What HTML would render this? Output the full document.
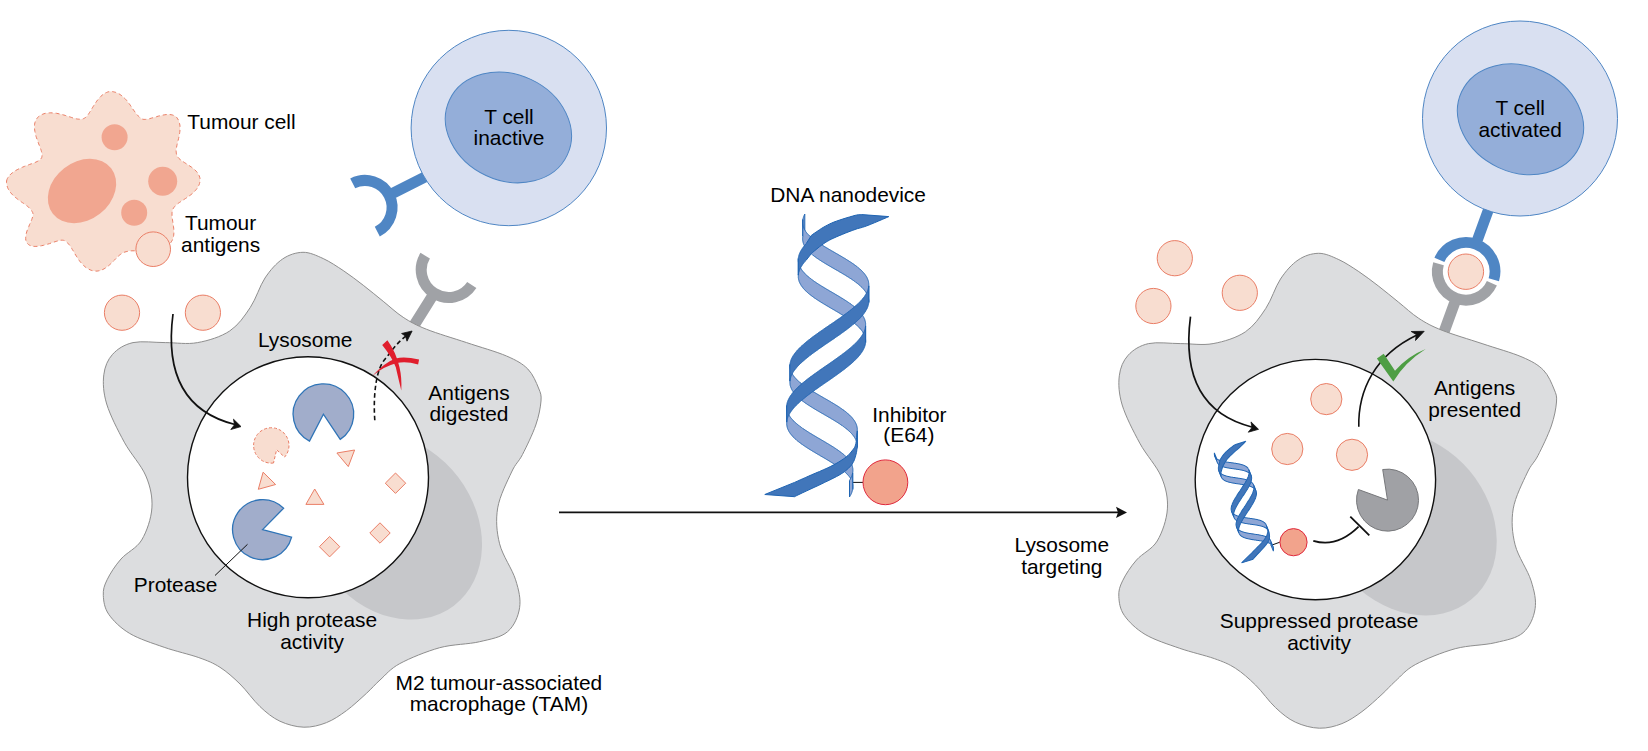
<!DOCTYPE html>
<html><head><meta charset="utf-8"><style>
html,body{margin:0;padding:0;background:#fff;overflow:hidden}
svg{display:block}
text{font-family:"Liberation Sans",sans-serif;fill:#000}
</style></head><body>
<svg width="1648" height="751" viewBox="0 0 1648 751">
<path d="M6.6 181 L6.9 179.7 L7.4 178.5 L8.1 177.3 L8.9 176.1 L10 174.9 L11.1 173.8 L12.5 172.7 L13.9 171.6 L15.5 170.6 L17.2 169.7 L18.9 168.8 L20.7 168 L22.5 167.2 L24.4 166.4 L26.2 165.7 L28 165.1 L29.7 164.4 L31.4 163.8 L33 163.2 L34.6 162.7 L35.9 162.1 L37.2 161.5 L38.3 160.9 L39.3 160.3 L40.1 159.7 L40.8 159 L41.3 158.2 L41.7 157.5 L41.9 156.6 L42 155.7 L42 154.8 L41.9 153.8 L41.8 152.8 L41.5 151.7 L41.2 150.5 L40.8 149.3 L40.3 148 L39.8 146.7 L39.3 145.3 L38.7 143.9 L38.2 142.4 L37.6 140.9 L37.1 139.4 L36.5 137.8 L36 136.3 L35.6 134.7 L35.2 133.1 L34.9 131.5 L34.7 130 L34.5 128.5 L34.5 127 L34.5 125.5 L34.6 124.2 L34.9 122.8 L35.2 121.6 L35.7 120.4 L36.3 119.3 L37 118.3 L37.7 117.4 L38.6 116.6 L39.6 115.9 L40.6 115.2 L41.7 114.6 L42.8 114.2 L44 113.7 L45.3 113.4 L46.6 113.1 L47.9 113 L49.3 112.9 L50.7 112.8 L52.1 112.9 L53.6 113 L55 113.1 L56.5 113.3 L58 113.6 L59.4 113.9 L60.9 114.3 L62.3 114.6 L63.8 115 L65.2 115.4 L66.5 115.9 L67.9 116.3 L69.2 116.7 L70.5 117.1 L71.7 117.5 L72.9 117.9 L74.1 118.2 L75.2 118.5 L76.3 118.8 L77.3 119 L78.3 119.1 L79.3 119.2 L80.2 119.2 L81.1 119.2 L82 119.1 L82.8 118.9 L83.6 118.6 L84.4 118.2 L85.2 117.7 L85.9 117.2 L86.6 116.5 L87.3 115.7 L88 114.8 L88.7 113.8 L89.4 112.7 L90.1 111.6 L90.9 110.4 L91.6 109.1 L92.4 107.8 L93.2 106.5 L94 105.2 L94.9 103.8 L95.8 102.5 L96.7 101.2 L97.7 99.9 L98.7 98.7 L99.7 97.5 L100.8 96.4 L101.9 95.4 L103 94.5 L104.1 93.7 L105.3 93 L106.5 92.5 L107.7 92 L108.9 91.7 L110 91.5 L111.2 91.5 L112.4 91.6 L113.6 91.8 L114.7 92.1 L115.8 92.4 L117 92.8 L118.1 93.4 L119.1 93.9 L120.2 94.6 L121.2 95.3 L122.2 96.1 L123.2 96.9 L124.1 97.8 L125.1 98.7 L125.9 99.6 L126.8 100.6 L127.6 101.6 L128.4 102.7 L129.2 103.7 L130 104.8 L130.7 105.8 L131.4 106.9 L132.2 107.9 L132.8 109 L133.5 110 L134.2 110.9 L134.9 111.9 L135.5 112.8 L136.2 113.7 L136.9 114.5 L137.6 115.3 L138.3 116 L139 116.7 L139.7 117.4 L140.5 117.9 L141.3 118.5 L142.1 119 L143.1 119.3 L144.1 119.4 L145.3 119.4 L146.6 119.3 L148 119 L149.5 118.7 L151.2 118.2 L152.9 117.7 L154.7 117.2 L156.5 116.7 L158.4 116.1 L160.3 115.7 L162.2 115.2 L164.1 114.9 L166 114.6 L167.8 114.5 L169.5 114.5 L171.1 114.7 L172.6 115 L173.9 115.5 L175.1 116.1 L176.1 116.9 L177 117.8 L177.7 118.9 L178.4 120 L178.9 121.2 L179.3 122.4 L179.6 123.8 L179.9 125.1 L180 126.6 L180.1 128 L180 129.5 L179.9 131.1 L179.7 132.6 L179.5 134.1 L179.2 135.7 L178.9 137.2 L178.5 138.7 L178.2 140.2 L177.8 141.6 L177.4 143.1 L177.1 144.5 L176.8 145.8 L176.6 147.1 L176.4 148.3 L176.2 149.5 L176.1 150.7 L176.2 151.8 L176.3 152.9 L176.4 153.9 L176.7 154.9 L177.1 155.8 L177.6 156.8 L178.3 157.6 L179 158.5 L179.9 159.3 L180.9 160.1 L182 160.9 L183.2 161.7 L184.5 162.6 L185.8 163.4 L187.2 164.3 L188.6 165.1 L189.9 166.1 L191.3 167 L192.6 168 L193.9 169 L195.1 170.1 L196.2 171.2 L197.2 172.3 L198 173.5 L198.7 174.7 L199.3 176 L199.7 177.2 L200 178.5 L200.1 179.7 L200 181 L199.8 182.3 L199.5 183.5 L199.1 184.8 L198.5 186 L197.9 187.2 L197.1 188.4 L196.2 189.6 L195.2 190.7 L194.2 191.8 L193.1 192.9 L191.9 193.9 L190.7 194.9 L189.4 195.8 L188.1 196.8 L186.8 197.7 L185.5 198.5 L184.2 199.4 L182.9 200.2 L181.7 201 L180.5 201.8 L179.4 202.5 L178.3 203.3 L177.3 204.1 L176.4 204.8 L175.5 205.6 L174.8 206.4 L174.1 207.2 L173.5 208.1 L173.1 208.9 L172.7 209.9 L172.4 210.8 L172.2 211.8 L172 212.8 L172 213.9 L172 215 L172 216.2 L172.1 217.4 L172.3 218.6 L172.5 219.9 L172.7 221.2 L172.9 222.6 L173.1 224 L173.4 225.4 L173.5 226.8 L173.7 228.2 L173.8 229.7 L173.9 231.1 L173.9 232.5 L173.8 233.9 L173.7 235.2 L173.5 236.5 L173.2 237.8 L172.8 239 L172.3 240.2 L171.7 241.2 L171 242.3 L170.3 243.2 L169.4 244 L168.5 244.8 L167.6 245.6 L166.6 246.3 L165.6 247 L164.6 247.6 L163.5 248.1 L162.3 248.6 L161.2 249.1 L160 249.5 L158.8 249.9 L157.5 250.2 L156.3 250.4 L155 250.6 L153.7 250.8 L152.4 251 L151.2 251.1 L149.9 251.1 L148.6 251.2 L147.3 251.2 L146 251.2 L144.7 251.2 L143.5 251.1 L142.2 251.1 L141 251 L139.8 251 L138.6 250.9 L137.5 250.9 L136.3 250.8 L135.2 250.8 L134.1 250.8 L133 250.8 L131.9 250.8 L130.9 250.9 L129.9 251 L128.9 251.1 L127.9 251.3 L126.9 251.5 L126 251.7 L125 252 L124.1 252.3 L123.2 252.7 L122.3 253.1 L121.5 253.7 L120.6 254.3 L119.7 255 L118.9 255.7 L118 256.5 L117.1 257.3 L116.3 258.2 L115.4 259.1 L114.5 260.1 L113.5 261 L112.6 262 L111.6 263 L110.6 263.9 L109.6 264.8 L108.6 265.7 L107.5 266.6 L106.4 267.4 L105.3 268.1 L104.1 268.8 L103 269.4 L101.8 269.9 L100.7 270.4 L99.5 270.7 L98.3 270.9 L97.1 271.1 L95.9 271.1 L94.7 271 L93.6 270.9 L92.4 270.6 L91.2 270.3 L90.1 269.8 L89 269.3 L87.9 268.8 L86.9 268.1 L85.8 267.4 L84.8 266.6 L83.8 265.7 L82.9 264.8 L82 263.8 L81.1 262.8 L80.2 261.8 L79.4 260.7 L78.6 259.6 L77.8 258.5 L77.1 257.4 L76.4 256.2 L75.7 255.1 L75 254 L74.3 252.8 L73.7 251.7 L73.1 250.7 L72.4 249.6 L71.8 248.6 L71.2 247.6 L70.6 246.7 L70 245.8 L69.4 245 L68.7 244.2 L68 243.4 L67.4 242.7 L66.7 242.1 L65.9 241.5 L65.2 241 L64.3 240.5 L63.4 240.3 L62.3 240.2 L61.1 240.2 L59.8 240.4 L58.4 240.8 L56.8 241.2 L55.1 241.7 L53.4 242.3 L51.5 242.9 L49.6 243.6 L47.6 244.2 L45.6 244.8 L43.6 245.3 L41.6 245.7 L39.6 246.1 L37.7 246.3 L35.9 246.4 L34.1 246.4 L32.5 246.2 L31 245.8 L29.7 245.3 L28.6 244.6 L27.6 243.7 L26.8 242.7 L26.2 241.5 L25.8 240.2 L25.7 238.7 L25.7 237.2 L25.9 235.5 L26.2 233.8 L26.7 232 L27.3 230.1 L28 228.3 L28.8 226.5 L29.5 224.7 L30.3 223 L31 221.3 L31.7 219.7 L32.2 218.2 L32.6 216.9 L32.9 215.6 L33 214.4 L32.9 213.3 L32.6 212.4 L32.1 211.5 L31.6 210.6 L31 209.7 L30.3 208.9 L29.5 208.1 L28.7 207.3 L27.8 206.5 L26.8 205.8 L25.8 205 L24.7 204.2 L23.6 203.4 L22.4 202.6 L21.2 201.8 L20 200.9 L18.8 200.1 L17.6 199.2 L16.4 198.2 L15.2 197.3 L14.1 196.3 L13 195.3 L12 194.2 L11 193.1 L10.1 192 L9.3 190.8 L8.6 189.7 L8 188.5 L7.5 187.3 L7.1 186 L6.8 184.8 L6.6 183.5 L6.5 182.3Z" fill="#f8ddd0" stroke="#ea7e66" stroke-width="1" stroke-dasharray="4 3"/>
<ellipse cx="82" cy="191" rx="37" ry="29" transform="rotate(-38 82 191)" fill="#f1a690"/>
<circle cx="114.6" cy="137.3" r="13" fill="#f1a690" stroke="none" stroke-width="0" />
<circle cx="162.7" cy="181.2" r="14.5" fill="#f1a690" stroke="none" stroke-width="0" />
<circle cx="134.2" cy="212.8" r="13" fill="#f1a690" stroke="none" stroke-width="0" />
<circle cx="153.2" cy="249.2" r="17.3" fill="#f8ddd0" stroke="#ea7e66" stroke-width="1" />
<text x="187.3" y="128.5" text-anchor="start" font-size="20.9">Tumour cell</text>
<text x="220.6" y="230.4" text-anchor="middle" font-size="20.9">Tumour</text>
<text x="220.6" y="252" text-anchor="middle" font-size="20.9">antigens</text>
<path d="M352.7 183.4A27 27 0 0 1 377.3 231.6M389.1 195.2L424.7 177.1" fill="none" stroke="#4f86c4" stroke-width="11"/>
<circle cx="508.8" cy="128" r="97.7" fill="#d9e0f1" stroke="#4f86c4" stroke-width="1" />
<ellipse cx="508.4" cy="127.4" rx="65" ry="53" transform="rotate(25 508.4 127.4)" fill="#94aed9" stroke="#4f86c4" stroke-width="1"/>
<text x="509" y="123.5" text-anchor="middle" font-size="20.9">T cell</text>
<text x="509" y="145.1" text-anchor="middle" font-size="20.9">inactive</text>
<path d="M471.8 284.9A27.5 27.5 0 0 1 425.2 255.7M433.9 293.6L412.7 327.5" fill="none" stroke="#a0a2a6" stroke-width="11"/>
<g transform="translate(0 0)"><path d="M303 252.3C309.8 252.2 316.6 255.6 323.3 258.6C330 261.7 336.6 266.2 343.3 270.6C350 275.1 356.7 280.2 363.3 285.3C369.9 290.4 376.6 296 383.2 301.3C389.8 306.6 396 312.6 403.2 317.3C410.4 322 416 325.1 426.6 329.3C437.2 333.5 453.3 338.2 466.6 342.6C479.9 347.1 496.3 351.6 506.5 356C516.7 360.4 522.5 363.7 527.8 369C533.1 374.3 536.3 382.7 538.5 388C540.7 393.3 541.5 394.8 541 401C540.5 407.2 538.9 416.1 535.8 425C532.7 433.9 526.5 446.7 522.5 454.5C518.5 462.3 515.7 463.1 511.6 472C507.5 480.9 499.7 495.9 497.7 507.9C495.7 519.9 496.6 531.8 499.6 543.8C502.6 555.8 512.3 569.1 515.6 579.8C518.9 590.4 520.9 599.1 519.6 607.7C518.3 616.4 514.2 626 507.6 631.7C501 637.4 491 639 479.7 641.7C468.4 644.4 453 644.1 439.7 647.7C426.4 651.4 409.8 658.2 399.8 663.6C389.9 669 385.6 675 380 680C374.4 685 372.1 688.2 366.5 693.3C360.9 698.4 353.2 705.7 346.5 710.6C339.8 715.5 333.6 719.8 326.5 722.6C319.4 725.4 311.7 727.4 303.9 727.2C296.1 727 287.2 724.6 279.9 721.2C272.6 717.8 266.6 712.8 260 706.6C253.3 700.4 246.7 690.5 240 684C233.3 677.5 226.9 671.7 220 667.3C213.1 662.9 208.1 660.9 198.8 657.6C189.5 654.3 175.7 651.3 164.2 647.3C152.7 643.3 138.8 638.9 129.6 633.4C120.4 627.9 113.2 620.7 108.8 614.4C104.4 608.1 103.6 601.2 103.3 595.4C103 589.6 104.1 585.9 107.1 579.8C110 573.7 115.2 565.6 121 559C126.8 552.4 136.5 548.5 141.7 540C146.8 531.5 151.2 518.6 151.9 507.9C152.6 497.2 150.5 486.9 145.9 476C141.3 465.1 130.8 454.2 124.3 442.2C117.8 430.2 110.1 415.2 106.7 404C103.3 392.8 102.8 383.1 103.8 374.8C104.8 366.5 107.7 359.7 112.6 354.3C117.5 348.9 124.2 344.6 133 342.6C141.8 340.7 154.5 342.6 165.3 342.6C176.1 342.6 186.8 344.6 197.6 342.6C208.3 340.7 221 336.8 229.8 330.9C238.6 325 244.4 316.2 250.3 307.4C256.2 298.6 259.6 286.1 265 278C270.4 269.9 276.3 263.3 282.6 259C288.9 254.7 296.2 252.4 303 252.3Z" fill="#dcdddf" stroke="#8e8e8e" stroke-width="1"/></g>
<ellipse cx="393.7" cy="526.3" rx="81.1" ry="99.6" transform="rotate(-37.2 393.7 526.3)" fill="#c6c7ca"/>
<circle cx="308" cy="477.3" r="120.5" fill="#fff" stroke="#111" stroke-width="1.4"/>
<circle cx="122" cy="312.7" r="17.6" fill="#f8ddd0" stroke="#ea7e66" stroke-width="1" />
<circle cx="202.9" cy="312.7" r="17.6" fill="#f8ddd0" stroke="#ea7e66" stroke-width="1" />
<text x="305.2" y="347.3" text-anchor="middle" font-size="20.9">Lysosome</text>
<g transform="translate(0 0)"><path d="M173 314C165 375 185 412 235 424.5" fill="none" stroke="#111" stroke-width="1.7"/><path d="M241 426.6L233.5 419.2L234.5 424.8L230.8 429.5Z" fill="#111" stroke="#111" stroke-width="0.8" stroke-linejoin="round"/></g>
<path d="M323.4 414.2L309.5 441.1A30.3 30.3 0 1 1 340.2 439.4Z" fill="#a1adcb" stroke="#2f74b7" stroke-width="1.3"/>
<path d="M262.6 529.6L291.6 537.2A30 30 0 1 1 283.6 508.2Z" fill="#a1adcb" stroke="#2f74b7" stroke-width="1.3"/>
<path d="M273.5 463A17.7 17.7 0 1 1 284.6 457.1L276.6 449.8Z" fill="#f8ddd0" stroke="#ea7e66" stroke-width="1" stroke-dasharray="3 2"/>
<path d="M336.9 453L354.6 450L348.3 466.6Z" fill="#f8ddd0" stroke="#ea7e66" stroke-width="1"/>
<path d="M263.1 472.2L275.6 484.5L258.3 489.3Z" fill="#f8ddd0" stroke="#ea7e66" stroke-width="1"/>
<path d="M314.7 489L323.9 504.4L305.9 504.4Z" fill="#f8ddd0" stroke="#ea7e66" stroke-width="1"/>
<path d="M395.5 473L405.7 483.2L395.5 493.4L385.3 483.2Z" fill="#f8ddd0" stroke="#ea7e66" stroke-width="1"/>
<path d="M380 522.8L390.2 533L380 543.2L369.8 533Z" fill="#f8ddd0" stroke="#ea7e66" stroke-width="1"/>
<path d="M329.6 536.5L339.8 546.7L329.6 556.9L319.4 546.7Z" fill="#f8ddd0" stroke="#ea7e66" stroke-width="1"/>
<path d="M247.5 544.3L215 575.5" stroke="#111" stroke-width="1"/>
<text x="175.6" y="591.5" text-anchor="middle" font-size="20.9">Protease</text>
<text x="312.1" y="627" text-anchor="middle" font-size="20.9">High protease</text>
<text x="312.1" y="648.8" text-anchor="middle" font-size="20.9">activity</text>
<text x="469" y="400.4" text-anchor="middle" font-size="20.9">Antigens</text>
<text x="469" y="421.3" text-anchor="middle" font-size="20.9">digested</text>
<text x="498.9" y="690.2" text-anchor="middle" font-size="20.9">M2 tumour-associated</text>
<text x="498.9" y="710.9" text-anchor="middle" font-size="20.9">macrophage (TAM)</text>
<path d="M374.8 420.3C373 395 376 368 386 358C392 350 398 342 406 336" fill="none" stroke="#111" stroke-width="1.6" stroke-dasharray="4.5 3"/>
<path d="M412.1 331L401.6 333.5L405.5 336.1L407 341.2Z" fill="#111" stroke="#111" stroke-width="0.8" stroke-linejoin="round"/>
<path d="M382.2 344.9L387.4 340.3Q396 352 399.5 367.3Q402 378 401.3 390.6Q398 377 395.8 367.3Q392 357 382.2 344.9Z" fill="#e01e2d"/>
<path d="M372.5 375.7Q385 362 395.8 358.4Q404 356 419.1 359.4L418.1 364.5Q406 361 396.7 363.1Q385 366 372.5 375.7Z" fill="#e01e2d"/>
<text x="848.1" y="201.5" text-anchor="middle" font-size="20.9">DNA nanodevice</text>
<text x="909.4" y="421.5" text-anchor="middle" font-size="20.9">Inhibitor</text>
<text x="908.8" y="442.4" text-anchor="middle" font-size="20.9">(E64)</text>
<path d="M559 512.4H1120" stroke="#111" stroke-width="1.6"/>
<path d="M1127 512.4L1116 506.8L1118 512.4L1116 518Z" fill="#111"/>
<text x="1061.8" y="552.4" text-anchor="middle" font-size="20.9">Lysosome</text>
<text x="1061.8" y="573.6" text-anchor="middle" font-size="20.9">targeting</text>
<path d="M850.7 482.4H863" stroke="#111" stroke-width="1"/>
<circle cx="885.4" cy="482.3" r="22.4" fill="#f2a38c" stroke="#e0283c" stroke-width="1" />
<g><path d="M798.3 258.6 L798.3 259 L798.3 259.4 L798.3 259.7 L798.3 260.1 L798.3 260.5 L798.3 260.8 L798.3 261.2 L798.4 261.6 L798.4 261.9 L798.5 262.3 L798.5 262.6 L798.6 263 L798.7 263.3 L798.8 263.7 L798.9 264.1 L799 264.4 L799.1 264.8 L799.2 265.1 L799.4 265.5 L799.5 265.8 L799.7 266.2 L799.8 266.5 L800 266.9 L800.2 267.2 L800.4 267.6 L800.6 267.9 L800.8 268.3 L801 268.6 L801.2 269 L801.4 269.3 L801.7 269.7 L801.9 270 L802.2 270.4 L802.4 270.7 L802.7 271 L803 271.4 L803.2 271.7 L803.5 272.1 L803.8 272.4 L804.1 272.7 L804.4 273.1 L804.8 273.4 L805.1 273.7 L805.4 274.1 L805.8 274.4 L806.1 274.8 L806.5 275.1 L806.8 275.4 L807.2 275.8 L807.6 276.1 L807.9 276.4 L808.3 276.8 L808.7 277.1 L809.1 277.4 L809.5 277.7 L809.9 278.1 L810.4 278.4 L810.8 278.7 L811.2 279.1 L811.6 279.4 L812.1 279.7 L812.5 280 L813 280.4 L813.4 280.7 L813.9 281 L814.3 281.4 L814.8 281.7 L815.3 282 L815.8 282.3 L816.2 282.6 L816.7 283 L817.2 283.3 L817.7 283.6 L818.2 283.9 L818.7 284.3 L819.2 284.6 L819.7 284.9 L820.2 285.2 L820.7 285.5 L821.2 285.9 L821.8 286.2 L822.3 286.5 L822.8 286.8 L823.3 287.1 L823.9 287.5 L824.4 287.8 L824.9 288.1 L825.5 288.4 L826 288.7 L826.5 289.1 L827.1 289.4 L827.6 289.7 L828.1 290 L828.7 290.3 L829.2 290.7 L829.8 291 L830.3 291.3 L830.9 291.6 L831.4 291.9 L832 292.2 L832.5 292.6 L833 292.9 L833.6 293.2 L834.1 293.5 L834.7 293.8 L835.2 294.2 L835.8 294.5 L836.3 294.8 L836.8 295.1 L837.4 295.4 L837.9 295.8 L838.5 296.1 L839 296.4 L839.5 296.7 L840.1 297 L840.6 297.4 L841.1 297.7 L841.6 298 L842.2 298.3 L842.7 298.6 L843.2 299 L843.7 299.3 L844.2 299.6 L844.7 299.9 L845.2 300.2 L845.7 300.6 L846.2 300.9 L846.7 301.2 L847.2 301.5 L847.7 301.9 L848.2 302.2 L848.6 302.5 L849.1 302.8 L849.6 303.1 L850 303.5 L850.5 303.8 L850.9 304.1 L851.4 304.5 L851.8 304.8 L852.3 305.1 L852.7 305.4 L853.1 305.8 L853.6 306.1 L854 306.4 L854.4 306.8 L854.8 307.1 L855.2 307.4 L855.6 307.7 L856 308.1 L856.3 308.4 L856.7 308.7 L857.1 309.1 L857.4 309.4 L857.8 309.7 L858.1 310.1 L858.5 310.4 L858.8 310.8 L859.1 311.1 L859.5 311.4 L859.8 311.8 L860.1 312.1 L860.4 312.4 L860.7 312.8 L861 313.1 L861.2 313.5 L861.5 313.8 L861.8 314.1 L862 314.5 L862.3 314.8 L862.5 315.2 L862.7 315.5 L862.9 315.9 L863.1 316.2 L863.3 316.6 L863.5 316.9 L863.7 317.3 L863.9 317.6 L864.1 318 L864.2 318.3 L864.4 318.7 L864.5 319 L864.7 319.4 L864.8 319.7 L864.9 320.1 L865 320.4 L865.1 320.8 L865.2 321.2 L865.3 321.5 L865.4 321.9 L865.4 322.2 L865.5 322.6 L865.5 322.9 L865.6 323.3 L865.6 323.7 L865.6 324 L865.6 324.4 L865.6 324.8 L865.6 325.1 L865.6 325.5 L865.6 325.9 L865.6 342.4 L865.6 342 L865.6 341.6 L865.6 341.3 L865.6 340.9 L865.6 340.5 L865.6 340.2 L865.6 339.8 L865.5 339.4 L865.5 339.1 L865.4 338.7 L865.4 338.4 L865.3 338 L865.2 337.7 L865.1 337.3 L865 336.9 L864.9 336.6 L864.8 336.2 L864.7 335.9 L864.5 335.5 L864.4 335.2 L864.2 334.8 L864.1 334.5 L863.9 334.1 L863.7 333.8 L863.5 333.4 L863.3 333.1 L863.1 332.7 L862.9 332.4 L862.7 332 L862.5 331.7 L862.3 331.3 L862 331 L861.8 330.6 L861.5 330.3 L861.2 330 L861 329.6 L860.7 329.3 L860.4 328.9 L860.1 328.6 L859.8 328.3 L859.5 327.9 L859.1 327.6 L858.8 327.3 L858.5 326.9 L858.1 326.6 L857.8 326.2 L857.4 325.9 L857.1 325.6 L856.7 325.2 L856.3 324.9 L856 324.6 L855.6 324.2 L855.2 323.9 L854.8 323.6 L854.4 323.3 L854 322.9 L853.6 322.6 L853.1 322.3 L852.7 321.9 L852.3 321.6 L851.8 321.3 L851.4 321 L850.9 320.6 L850.5 320.3 L850 320 L849.6 319.6 L849.1 319.3 L848.6 319 L848.2 318.7 L847.7 318.4 L847.2 318 L846.7 317.7 L846.2 317.4 L845.7 317.1 L845.2 316.7 L844.7 316.4 L844.2 316.1 L843.7 315.8 L843.2 315.5 L842.7 315.1 L842.2 314.8 L841.6 314.5 L841.1 314.2 L840.6 313.9 L840.1 313.5 L839.5 313.2 L839 312.9 L838.5 312.6 L837.9 312.3 L837.4 311.9 L836.8 311.6 L836.3 311.3 L835.8 311 L835.2 310.7 L834.7 310.3 L834.1 310 L833.6 309.7 L833 309.4 L832.5 309.1 L832 308.8 L831.4 308.4 L830.9 308.1 L830.3 307.8 L829.8 307.5 L829.2 307.2 L828.7 306.8 L828.1 306.5 L827.6 306.2 L827.1 305.9 L826.5 305.6 L826 305.2 L825.5 304.9 L824.9 304.6 L824.4 304.3 L823.9 304 L823.3 303.6 L822.8 303.3 L822.3 303 L821.8 302.7 L821.2 302.4 L820.7 302 L820.2 301.7 L819.7 301.4 L819.2 301.1 L818.7 300.8 L818.2 300.4 L817.7 300.1 L817.2 299.8 L816.7 299.5 L816.2 299.1 L815.8 298.8 L815.3 298.5 L814.8 298.2 L814.3 297.9 L813.9 297.5 L813.4 297.2 L813 296.9 L812.5 296.5 L812.1 296.2 L811.6 295.9 L811.2 295.6 L810.8 295.2 L810.4 294.9 L809.9 294.6 L809.5 294.2 L809.1 293.9 L808.7 293.6 L808.3 293.3 L807.9 292.9 L807.6 292.6 L807.2 292.3 L806.8 291.9 L806.5 291.6 L806.1 291.3 L805.8 290.9 L805.4 290.6 L805.1 290.2 L804.8 289.9 L804.4 289.6 L804.1 289.2 L803.8 288.9 L803.5 288.6 L803.2 288.2 L803 287.9 L802.7 287.5 L802.4 287.2 L802.2 286.9 L801.9 286.5 L801.7 286.2 L801.4 285.8 L801.2 285.5 L801 285.1 L800.8 284.8 L800.6 284.4 L800.4 284.1 L800.2 283.7 L800 283.4 L799.8 283 L799.7 282.7 L799.5 282.3 L799.4 282 L799.2 281.6 L799.1 281.3 L799 280.9 L798.9 280.6 L798.8 280.2 L798.7 279.8 L798.6 279.5 L798.5 279.1 L798.5 278.8 L798.4 278.4 L798.4 278.1 L798.3 277.7 L798.3 277.3 L798.3 277 L798.3 276.6 L798.3 276.2 L798.3 275.9 L798.3 275.5 L798.3 275.1Z" fill="#8ea6d5" stroke="#1f64b2" stroke-width="1"/><path d="M786.7 405.6 L786.7 406 L786.7 406.4 L786.7 406.7 L786.7 407.1 L786.7 407.5 L786.7 407.8 L786.7 408.2 L786.8 408.6 L786.8 408.9 L786.9 409.3 L786.9 409.6 L787 410 L787.1 410.3 L787.2 410.7 L787.3 411.1 L787.4 411.4 L787.5 411.8 L787.6 412.1 L787.8 412.5 L787.9 412.8 L788.1 413.2 L788.2 413.5 L788.4 413.9 L788.6 414.2 L788.8 414.6 L788.9 414.9 L789.2 415.3 L789.4 415.6 L789.6 416 L789.8 416.3 L790 416.7 L790.3 417 L790.5 417.4 L790.8 417.7 L791.1 418 L791.3 418.4 L791.6 418.7 L791.9 419.1 L792.2 419.4 L792.5 419.7 L792.8 420.1 L793.1 420.4 L793.5 420.7 L793.8 421.1 L794.1 421.4 L794.5 421.8 L794.8 422.1 L795.2 422.4 L795.6 422.8 L796 423.1 L796.3 423.4 L796.7 423.8 L797.1 424.1 L797.5 424.4 L797.9 424.7 L798.3 425.1 L798.7 425.4 L799.2 425.7 L799.6 426.1 L800 426.4 L800.5 426.7 L800.9 427 L801.4 427.4 L801.8 427.7 L802.3 428 L802.7 428.4 L803.2 428.7 L803.7 429 L804.1 429.3 L804.6 429.6 L805.1 430 L805.6 430.3 L806.1 430.6 L806.6 430.9 L807.1 431.3 L807.6 431.6 L808.1 431.9 L808.6 432.2 L809.1 432.5 L809.6 432.9 L810.1 433.2 L810.7 433.5 L811.2 433.8 L811.7 434.1 L812.2 434.5 L812.8 434.8 L813.3 435.1 L813.8 435.4 L814.4 435.7 L814.9 436.1 L815.5 436.4 L816 436.7 L816.5 437 L817.1 437.3 L817.6 437.7 L818.2 438 L818.7 438.3 L819.3 438.6 L819.8 438.9 L820.3 439.2 L820.9 439.6 L821.4 439.9 L822 440.2 L822.5 440.5 L823.1 440.8 L823.6 441.2 L824.1 441.5 L824.7 441.8 L825.2 442.1 L825.8 442.4 L826.3 442.8 L826.8 443.1 L827.4 443.4 L827.9 443.7 L828.4 444 L829 444.4 L829.5 444.7 L830 445 L830.5 445.3 L831.1 445.6 L831.6 446 L832.1 446.3 L832.6 446.6 L833.1 446.9 L833.6 447.2 L834.1 447.6 L834.6 447.9 L835.1 448.2 L835.6 448.5 L836.1 448.9 L836.5 449.2 L837 449.5 L837.5 449.8 L838 450.1 L838.4 450.5 L838.9 450.8 L839.3 451.1 L839.8 451.5 L840.2 451.8 L840.7 452.1 L841.1 452.4 L841.5 452.8 L841.9 453.1 L842.4 453.4 L842.8 453.8 L843.2 454.1 L843.6 454.4 L844 454.7 L844.4 455.1 L844.7 455.4 L845.1 455.7 L845.5 456.1 L845.8 456.4 L846.2 456.7 L846.5 457.1 L846.9 457.4 L847.2 457.8 L847.5 458.1 L847.9 458.4 L848.2 458.8 L848.5 459.1 L848.8 459.4 L849.1 459.8 L849.3 460.1 L849.5 460.5 L849.8 460.8 L850 461.1 L850.2 461.5 L850.4 461.8 L850.6 462.2 L850.8 462.5 L851 462.9 L851.2 463.2 L851.4 463.6 L851.5 463.9 L851.7 464.3 L851.8 464.6 L851.9 465 L852.1 465.3 L852.2 465.7 L852.3 466 L852.4 466.4 L852.5 466.7 L852.6 467.1 L852.6 467.4 L852.7 467.8 L852.8 468.2 L852.8 468.5 L852.9 468.9 L852.9 469.2 L852.9 469.6 L852.9 469.9 L852.9 470.3 L852.9 470.7 L852.9 471 L852.9 471.4 L852.8 471.8 L852.8 472.1 L852.7 472.5 L852.7 472.9 L852.7 489.4 L852.7 489 L852.8 488.6 L852.8 488.3 L852.9 487.9 L852.9 487.5 L852.9 487.2 L852.9 486.8 L852.9 486.4 L852.9 486.1 L852.9 485.7 L852.9 485.4 L852.8 485 L852.8 484.7 L852.7 484.3 L852.6 483.9 L852.6 483.6 L852.5 483.2 L852.4 482.9 L852.3 482.5 L852.2 482.2 L852.1 481.8 L851.9 481.5 L851.8 481.1 L851.7 480.8 L851.5 480.4 L851.4 480.1 L851.2 479.7 L851 479.4 L850.8 479 L850.6 478.7 L850.4 478.3 L850.2 478 L850 477.6 L849.8 477.3 L849.5 477 L849.3 476.6 L849.1 476.3 L848.8 475.9 L848.5 475.6 L848.2 475.3 L847.9 474.9 L847.5 474.6 L847.2 474.3 L846.9 473.9 L846.5 473.6 L846.2 473.2 L845.8 472.9 L845.5 472.6 L845.1 472.2 L844.7 471.9 L844.4 471.6 L844 471.2 L843.6 470.9 L843.2 470.6 L842.8 470.3 L842.4 469.9 L841.9 469.6 L841.5 469.3 L841.1 468.9 L840.7 468.6 L840.2 468.3 L839.8 468 L839.3 467.6 L838.9 467.3 L838.4 467 L838 466.6 L837.5 466.3 L837 466 L836.5 465.7 L836.1 465.4 L835.6 465 L835.1 464.7 L834.6 464.4 L834.1 464.1 L833.6 463.7 L833.1 463.4 L832.6 463.1 L832.1 462.8 L831.6 462.5 L831.1 462.1 L830.5 461.8 L830 461.5 L829.5 461.2 L829 460.9 L828.4 460.5 L827.9 460.2 L827.4 459.9 L826.8 459.6 L826.3 459.3 L825.8 458.9 L825.2 458.6 L824.7 458.3 L824.1 458 L823.6 457.7 L823.1 457.3 L822.5 457 L822 456.7 L821.4 456.4 L820.9 456.1 L820.3 455.8 L819.8 455.4 L819.3 455.1 L818.7 454.8 L818.2 454.5 L817.6 454.2 L817.1 453.8 L816.5 453.5 L816 453.2 L815.5 452.9 L814.9 452.6 L814.4 452.2 L813.8 451.9 L813.3 451.6 L812.8 451.3 L812.2 451 L811.7 450.6 L811.2 450.3 L810.7 450 L810.1 449.7 L809.6 449.4 L809.1 449 L808.6 448.7 L808.1 448.4 L807.6 448.1 L807.1 447.8 L806.6 447.4 L806.1 447.1 L805.6 446.8 L805.1 446.5 L804.6 446.1 L804.1 445.8 L803.7 445.5 L803.2 445.2 L802.7 444.9 L802.3 444.5 L801.8 444.2 L801.4 443.9 L800.9 443.5 L800.5 443.2 L800 442.9 L799.6 442.6 L799.2 442.2 L798.7 441.9 L798.3 441.6 L797.9 441.2 L797.5 440.9 L797.1 440.6 L796.7 440.3 L796.3 439.9 L796 439.6 L795.6 439.3 L795.2 438.9 L794.8 438.6 L794.5 438.3 L794.1 437.9 L793.8 437.6 L793.5 437.2 L793.1 436.9 L792.8 436.6 L792.5 436.2 L792.2 435.9 L791.9 435.6 L791.6 435.2 L791.3 434.9 L791.1 434.5 L790.8 434.2 L790.5 433.9 L790.3 433.5 L790 433.2 L789.8 432.8 L789.6 432.5 L789.4 432.1 L789.2 431.8 L788.9 431.4 L788.8 431.1 L788.6 430.7 L788.4 430.4 L788.2 430 L788.1 429.7 L787.9 429.3 L787.8 429 L787.6 428.6 L787.5 428.3 L787.4 427.9 L787.3 427.6 L787.2 427.2 L787.1 426.8 L787 426.5 L786.9 426.1 L786.9 425.8 L786.8 425.4 L786.8 425.1 L786.7 424.7 L786.7 424.3 L786.7 424 L786.7 423.6 L786.7 423.2 L786.7 422.9 L786.7 422.5 L786.7 422.1Z" fill="#8ea6d5" stroke="#1f64b2" stroke-width="1"/><path d="M852.7 472.9 L852.6 473.2 L852.5 473.6 L852.4 474 L852.3 474.4 L852.2 474.7 L852.1 475.1 L852 475.5 L851.8 475.9 L851.7 476.3 L851.5 476.6 L851.4 477 L851.2 477.4 L851 477.8 L850.8 478.2 L850.6 478.6 L850.4 478.9 L850.2 479.3 L850 479.7 L849.7 480.1 L849.5 480.5 L849.5 497 L849.7 496.6 L850 496.2 L850.2 495.8 L850.4 495.4 L850.6 495.1 L850.8 494.7 L851 494.3 L851.2 493.9 L851.4 493.5 L851.5 493.1 L851.7 492.8 L851.8 492.4 L852 492 L852.1 491.6 L852.2 491.2 L852.3 490.9 L852.4 490.5 L852.5 490.1 L852.6 489.7 L852.7 489.4Z" fill="#8ea6d5" stroke="#1f64b2" stroke-width="1"/><path d="M804.8 214 L804.6 214.4 L804.4 214.8 L804.3 215.1 L804.1 215.5 L803.9 215.9 L803.8 216.3 L803.6 216.6 L803.5 217 L803.4 217.4 L803.3 217.7 L803.1 218.1 L803.1 218.5 L803 218.9 L802.9 219.2 L802.8 219.6 L802.8 236.1 L802.9 235.7 L803 235.4 L803.1 235 L803.1 234.6 L803.3 234.2 L803.4 233.9 L803.5 233.5 L803.6 233.1 L803.8 232.8 L803.9 232.4 L804.1 232 L804.3 231.6 L804.4 231.3 L804.6 230.9 L804.8 230.5Z" fill="#8ea6d5" stroke="#1f64b2" stroke-width="1"/><path d="M802.8 219.6 L802.8 220 L802.7 220.3 L802.7 220.7 L802.6 221 L802.6 221.4 L802.6 221.8 L802.6 222.1 L802.6 222.5 L802.6 222.8 L802.6 223.2 L802.6 223.5 L802.7 223.9 L802.7 224.2 L802.8 224.6 L802.9 224.9 L802.9 225.3 L803 225.6 L803.1 226 L803.2 226.3 L803.3 226.7 L803.4 227 L803.6 227.4 L803.7 227.7 L803.8 228.1 L804 228.4 L804.2 228.8 L804.3 229.1 L804.5 229.4 L804.7 229.8 L804.9 230.1 L805.1 230.5 L805.3 230.8 L805.5 231.1 L805.7 231.5 L806 231.8 L806.2 232.2 L806.5 232.5 L806.7 232.8 L807 233.2 L807.3 233.5 L807.5 233.8 L807.9 234.2 L808.2 234.5 L808.5 234.8 L808.9 235.2 L809.2 235.5 L809.6 235.8 L809.9 236.2 L810.3 236.5 L810.7 236.8 L811 237.1 L811.4 237.5 L811.8 237.8 L812.2 238.1 L812.6 238.4 L813 238.8 L813.5 239.1 L813.9 239.4 L814.3 239.7 L814.7 240.1 L815.2 240.4 L815.6 240.7 L816.1 241 L816.5 241.4 L817 241.7 L817.4 242 L817.9 242.3 L818.4 242.6 L818.9 243 L819.3 243.3 L819.8 243.6 L820.3 243.9 L820.8 244.2 L821.3 244.6 L821.8 244.9 L822.3 245.2 L822.8 245.5 L823.3 245.8 L823.8 246.1 L824.4 246.5 L824.9 246.8 L825.4 247.1 L825.9 247.4 L826.4 247.7 L827 248 L827.5 248.3 L828 248.7 L828.6 249 L829.1 249.3 L829.6 249.6 L830.2 249.9 L830.7 250.2 L831.3 250.6 L831.8 250.9 L832.4 251.2 L832.9 251.5 L833.4 251.8 L834 252.1 L834.5 252.4 L835.1 252.8 L835.6 253.1 L836.2 253.4 L836.7 253.7 L837.3 254 L837.8 254.3 L838.3 254.6 L838.9 254.9 L839.4 255.3 L840 255.6 L840.5 255.9 L841 256.2 L841.6 256.5 L842.1 256.8 L842.6 257.2 L843.2 257.5 L843.7 257.8 L844.2 258.1 L844.8 258.4 L845.3 258.7 L845.8 259 L846.3 259.4 L846.8 259.7 L847.3 260 L847.8 260.3 L848.3 260.6 L848.8 260.9 L849.3 261.3 L849.8 261.6 L850.3 261.9 L850.8 262.2 L851.3 262.5 L851.8 262.9 L852.2 263.2 L852.7 263.5 L853.2 263.8 L853.6 264.1 L854.1 264.5 L854.5 264.8 L855 265.1 L855.4 265.4 L855.8 265.8 L856.3 266.1 L856.7 266.4 L857.1 266.7 L857.5 267.1 L857.9 267.4 L858.3 267.7 L858.7 268 L859.1 268.4 L859.5 268.7 L859.9 269 L860.2 269.3 L860.6 269.7 L860.9 270 L861.3 270.3 L861.6 270.7 L862 271 L862.3 271.3 L862.6 271.7 L862.9 272 L863.2 272.3 L863.5 272.7 L863.8 273 L864.1 273.3 L864.4 273.7 L864.6 274 L864.9 274.4 L865.2 274.7 L865.4 275 L865.6 275.4 L865.9 275.7 L866.1 276.1 L866.3 276.4 L866.5 276.7 L866.7 277.1 L866.9 277.4 L867.1 277.8 L867.2 278.1 L867.4 278.5 L867.5 278.8 L867.7 279.2 L867.8 279.5 L867.9 279.9 L868.1 280.2 L868.2 280.6 L868.3 280.9 L868.4 281.3 L868.5 281.6 L868.5 282 L868.6 282.3 L868.6 282.7 L868.7 283 L868.7 283.4 L868.8 283.7 L868.8 284.1 L868.8 284.5 L868.8 284.8 L868.8 285.2 L868.8 285.5 L868.8 285.9 L868.8 302.4 L868.8 302 L868.8 301.7 L868.8 301.3 L868.8 301 L868.8 300.6 L868.8 300.2 L868.7 299.9 L868.7 299.5 L868.6 299.2 L868.6 298.8 L868.5 298.5 L868.5 298.1 L868.4 297.8 L868.3 297.4 L868.2 297.1 L868.1 296.7 L867.9 296.4 L867.8 296 L867.7 295.7 L867.5 295.3 L867.4 295 L867.2 294.6 L867.1 294.3 L866.9 293.9 L866.7 293.6 L866.5 293.2 L866.3 292.9 L866.1 292.6 L865.9 292.2 L865.6 291.9 L865.4 291.5 L865.2 291.2 L864.9 290.9 L864.6 290.5 L864.4 290.2 L864.1 289.8 L863.8 289.5 L863.5 289.2 L863.2 288.8 L862.9 288.5 L862.6 288.2 L862.3 287.8 L862 287.5 L861.6 287.2 L861.3 286.8 L860.9 286.5 L860.6 286.2 L860.2 285.8 L859.9 285.5 L859.5 285.2 L859.1 284.9 L858.7 284.5 L858.3 284.2 L857.9 283.9 L857.5 283.6 L857.1 283.2 L856.7 282.9 L856.3 282.6 L855.8 282.3 L855.4 281.9 L855 281.6 L854.5 281.3 L854.1 281 L853.6 280.6 L853.2 280.3 L852.7 280 L852.2 279.7 L851.8 279.4 L851.3 279 L850.8 278.7 L850.3 278.4 L849.8 278.1 L849.3 277.8 L848.8 277.4 L848.3 277.1 L847.8 276.8 L847.3 276.5 L846.8 276.2 L846.3 275.9 L845.8 275.5 L845.3 275.2 L844.8 274.9 L844.2 274.6 L843.7 274.3 L843.2 274 L842.6 273.7 L842.1 273.3 L841.6 273 L841 272.7 L840.5 272.4 L840 272.1 L839.4 271.8 L838.9 271.4 L838.3 271.1 L837.8 270.8 L837.3 270.5 L836.7 270.2 L836.2 269.9 L835.6 269.6 L835.1 269.2 L834.5 268.9 L834 268.6 L833.4 268.3 L832.9 268 L832.4 267.7 L831.8 267.4 L831.3 267.1 L830.7 266.7 L830.2 266.4 L829.6 266.1 L829.1 265.8 L828.6 265.5 L828 265.2 L827.5 264.8 L827 264.5 L826.4 264.2 L825.9 263.9 L825.4 263.6 L824.9 263.3 L824.4 263 L823.8 262.6 L823.3 262.3 L822.8 262 L822.3 261.7 L821.8 261.4 L821.3 261.1 L820.8 260.7 L820.3 260.4 L819.8 260.1 L819.3 259.8 L818.9 259.5 L818.4 259.1 L817.9 258.8 L817.4 258.5 L817 258.2 L816.5 257.9 L816.1 257.5 L815.6 257.2 L815.2 256.9 L814.7 256.6 L814.3 256.2 L813.9 255.9 L813.5 255.6 L813 255.3 L812.6 254.9 L812.2 254.6 L811.8 254.3 L811.4 254 L811 253.6 L810.7 253.3 L810.3 253 L809.9 252.7 L809.6 252.3 L809.2 252 L808.9 251.7 L808.5 251.3 L808.2 251 L807.9 250.7 L807.5 250.3 L807.3 250 L807 249.7 L806.7 249.3 L806.5 249 L806.2 248.7 L806 248.3 L805.7 248 L805.5 247.6 L805.3 247.3 L805.1 247 L804.9 246.6 L804.7 246.3 L804.5 245.9 L804.3 245.6 L804.2 245.3 L804 244.9 L803.8 244.6 L803.7 244.2 L803.6 243.9 L803.4 243.5 L803.3 243.2 L803.2 242.8 L803.1 242.5 L803 242.1 L802.9 241.8 L802.9 241.4 L802.8 241.1 L802.7 240.7 L802.7 240.4 L802.6 240 L802.6 239.7 L802.6 239.3 L802.6 239 L802.6 238.6 L802.6 238.3 L802.6 237.9 L802.6 237.5 L802.7 237.2 L802.7 236.8 L802.8 236.5 L802.8 236.1Z" fill="#8ea6d5" stroke="#1f64b2" stroke-width="1"/><path d="M789.9 364.6 L789.9 365 L789.9 365.3 L789.9 365.7 L789.9 366 L789.9 366.4 L789.9 366.8 L790 367.1 L790 367.5 L790 367.8 L790.1 368.2 L790.2 368.5 L790.2 368.9 L790.3 369.2 L790.4 369.6 L790.5 369.9 L790.6 370.3 L790.7 370.6 L790.9 371 L791 371.3 L791.2 371.7 L791.3 372 L791.5 372.4 L791.6 372.7 L791.8 373.1 L792 373.4 L792.2 373.8 L792.4 374.1 L792.6 374.4 L792.8 374.8 L793.1 375.1 L793.3 375.5 L793.5 375.8 L793.8 376.1 L794.1 376.5 L794.3 376.8 L794.6 377.2 L794.9 377.5 L795.2 377.8 L795.5 378.2 L795.8 378.5 L796.1 378.8 L796.4 379.2 L796.7 379.5 L797.1 379.8 L797.4 380.2 L797.8 380.5 L798.1 380.8 L798.5 381.2 L798.8 381.5 L799.2 381.8 L799.6 382.1 L800 382.5 L800.4 382.8 L800.8 383.1 L801.2 383.4 L801.6 383.8 L802 384.1 L802.4 384.4 L802.9 384.7 L803.3 385.1 L803.7 385.4 L804.2 385.7 L804.6 386 L805.1 386.4 L805.5 386.7 L806 387 L806.5 387.3 L806.9 387.6 L807.4 388 L807.9 388.3 L808.4 388.6 L808.9 388.9 L809.4 389.2 L809.9 389.6 L810.4 389.9 L810.9 390.2 L811.4 390.5 L811.9 390.8 L812.4 391.1 L812.9 391.5 L813.4 391.8 L813.9 392.1 L814.5 392.4 L815 392.7 L815.5 393 L816.1 393.3 L816.6 393.7 L817.1 394 L817.7 394.3 L818.2 394.6 L818.7 394.9 L819.3 395.2 L819.8 395.6 L820.4 395.9 L820.9 396.2 L821.4 396.5 L822 396.8 L822.5 397.1 L823.1 397.4 L823.6 397.8 L824.2 398.1 L824.7 398.4 L825.3 398.7 L825.8 399 L826.3 399.3 L826.9 399.6 L827.4 399.9 L828 400.3 L828.5 400.6 L829.1 400.9 L829.6 401.2 L830.1 401.5 L830.7 401.8 L831.2 402.2 L831.7 402.5 L832.3 402.8 L832.8 403.1 L833.3 403.4 L833.8 403.7 L834.3 404 L834.9 404.4 L835.4 404.7 L835.9 405 L836.4 405.3 L836.9 405.6 L837.4 405.9 L837.9 406.3 L838.4 406.6 L838.9 406.9 L839.4 407.2 L839.8 407.5 L840.3 407.9 L840.8 408.2 L841.2 408.5 L841.7 408.8 L842.2 409.1 L842.6 409.5 L843.1 409.8 L843.5 410.1 L844 410.4 L844.4 410.8 L844.8 411.1 L845.2 411.4 L845.7 411.7 L846.1 412.1 L846.5 412.4 L846.9 412.7 L847.3 413 L847.6 413.4 L848 413.7 L848.4 414 L848.8 414.3 L849.1 414.7 L849.5 415 L849.8 415.3 L850.2 415.7 L850.5 416 L850.8 416.3 L851.2 416.7 L851.5 417 L851.8 417.3 L852.1 417.7 L852.4 418 L852.6 418.3 L852.9 418.7 L853.2 419 L853.4 419.4 L853.7 419.7 L853.9 420 L854.2 420.4 L854.4 420.7 L854.6 421.1 L854.8 421.4 L855 421.7 L855.2 422.1 L855.4 422.4 L855.6 422.8 L855.8 423.1 L855.9 423.5 L856.1 423.8 L856.2 424.2 L856.4 424.5 L856.5 424.9 L856.6 425.2 L856.7 425.6 L856.8 425.9 L856.9 426.3 L857 426.6 L857.1 427 L857.1 427.3 L857.2 427.7 L857.2 428 L857.3 428.4 L857.3 428.7 L857.3 429.1 L857.3 429.5 L857.3 429.8 L857.3 430.2 L857.3 430.5 L857.3 430.9 L857.3 447.4 L857.3 447 L857.3 446.7 L857.3 446.3 L857.3 446 L857.3 445.6 L857.3 445.2 L857.3 444.9 L857.2 444.5 L857.2 444.2 L857.1 443.8 L857.1 443.5 L857 443.1 L856.9 442.8 L856.8 442.4 L856.7 442.1 L856.6 441.7 L856.5 441.4 L856.4 441 L856.2 440.7 L856.1 440.3 L855.9 440 L855.8 439.6 L855.6 439.3 L855.4 438.9 L855.2 438.6 L855 438.2 L854.8 437.9 L854.6 437.6 L854.4 437.2 L854.2 436.9 L853.9 436.5 L853.7 436.2 L853.4 435.9 L853.2 435.5 L852.9 435.2 L852.6 434.8 L852.4 434.5 L852.1 434.2 L851.8 433.8 L851.5 433.5 L851.2 433.2 L850.8 432.8 L850.5 432.5 L850.2 432.2 L849.8 431.8 L849.5 431.5 L849.1 431.2 L848.8 430.8 L848.4 430.5 L848 430.2 L847.6 429.9 L847.3 429.5 L846.9 429.2 L846.5 428.9 L846.1 428.6 L845.7 428.2 L845.2 427.9 L844.8 427.6 L844.4 427.3 L844 426.9 L843.5 426.6 L843.1 426.3 L842.6 426 L842.2 425.6 L841.7 425.3 L841.2 425 L840.8 424.7 L840.3 424.4 L839.8 424 L839.4 423.7 L838.9 423.4 L838.4 423.1 L837.9 422.8 L837.4 422.4 L836.9 422.1 L836.4 421.8 L835.9 421.5 L835.4 421.2 L834.9 420.9 L834.3 420.5 L833.8 420.2 L833.3 419.9 L832.8 419.6 L832.3 419.3 L831.7 419 L831.2 418.7 L830.7 418.3 L830.1 418 L829.6 417.7 L829.1 417.4 L828.5 417.1 L828 416.8 L827.4 416.4 L826.9 416.1 L826.3 415.8 L825.8 415.5 L825.3 415.2 L824.7 414.9 L824.2 414.6 L823.6 414.2 L823.1 413.9 L822.5 413.6 L822 413.3 L821.4 413 L820.9 412.7 L820.4 412.4 L819.8 412.1 L819.3 411.7 L818.7 411.4 L818.2 411.1 L817.7 410.8 L817.1 410.5 L816.6 410.2 L816.1 409.8 L815.5 409.5 L815 409.2 L814.5 408.9 L813.9 408.6 L813.4 408.3 L812.9 408 L812.4 407.6 L811.9 407.3 L811.4 407 L810.9 406.7 L810.4 406.4 L809.9 406.1 L809.4 405.7 L808.9 405.4 L808.4 405.1 L807.9 404.8 L807.4 404.5 L806.9 404.1 L806.5 403.8 L806 403.5 L805.5 403.2 L805.1 402.9 L804.6 402.5 L804.2 402.2 L803.7 401.9 L803.3 401.6 L802.9 401.2 L802.4 400.9 L802 400.6 L801.6 400.3 L801.2 399.9 L800.8 399.6 L800.4 399.3 L800 399 L799.6 398.6 L799.2 398.3 L798.8 398 L798.5 397.7 L798.1 397.3 L797.8 397 L797.4 396.7 L797.1 396.3 L796.7 396 L796.4 395.7 L796.1 395.3 L795.8 395 L795.5 394.7 L795.2 394.3 L794.9 394 L794.6 393.7 L794.3 393.3 L794.1 393 L793.8 392.6 L793.5 392.3 L793.3 392 L793.1 391.6 L792.8 391.3 L792.6 390.9 L792.4 390.6 L792.2 390.3 L792 389.9 L791.8 389.6 L791.6 389.2 L791.5 388.9 L791.3 388.5 L791.2 388.2 L791 387.8 L790.9 387.5 L790.7 387.1 L790.6 386.8 L790.5 386.4 L790.4 386.1 L790.3 385.7 L790.2 385.4 L790.2 385 L790.1 384.7 L790 384.3 L790 384 L790 383.6 L789.9 383.3 L789.9 382.9 L789.9 382.5 L789.9 382.2 L789.9 381.8 L789.9 381.5 L789.9 381.1Z" fill="#8ea6d5" stroke="#1f64b2" stroke-width="1"/><path d="M888.8 216.6 L862 214.6 L861.4 214.6 L860.6 214.6 L859.7 214.6 L858.5 214.7 L856.9 215 L855 215.4 L852.5 216.1 L849.4 217 L846 218 L842.5 219.1 L839.2 220.2 L836.3 221.2 L833.9 222.1 L831.7 223 L829.7 223.9 L827.8 224.9 L825.9 225.9 L823.9 227 L821.7 228.3 L819.3 229.9 L816.9 231.5 L814.7 233 L812.8 234.3 L811.5 235.2 L806.3 243.5 L805.9 243.9 L805.6 244.3 L805.2 244.7 L804.9 245.1 L804.5 245.5 L804.2 245.9 L803.9 246.3 L803.6 246.7 L803.3 247.1 L803 247.5 L802.7 247.9 L802.4 248.3 L802.2 248.7 L801.9 249.1 L801.7 249.5 L801.4 249.9 L801.2 250.3 L801 250.6 L800.7 251 L800.5 251.4 L800.3 251.8 L800.1 252.2 L800 252.6 L799.8 253 L799.6 253.3 L799.5 253.7 L799.3 254.1 L799.2 254.5 L799.1 254.9 L799 255.3 L798.8 255.6 L798.7 256 L798.7 256.4 L798.6 256.8 L798.5 257.1 L798.4 257.5 L798.4 257.9 L798.3 258.3 L798.3 258.6 L798.3 275.1 L798.3 274.8 L798.4 274.4 L798.4 274 L798.5 273.6 L798.6 273.3 L798.7 272.9 L798.7 272.5 L798.8 272.1 L799 271.8 L799.1 271.4 L799.2 271 L799.3 270.6 L799.5 270.2 L799.6 269.8 L799.8 269.5 L800 269.1 L800.1 268.7 L800.3 268.3 L800.5 267.9 L800.7 267.5 L801 267.1 L801.2 266.8 L801.4 266.4 L801.7 266 L801.9 265.6 L802.2 265.2 L802.4 264.8 L802.7 264.4 L803 264 L803.3 263.6 L803.6 263.2 L803.9 262.8 L804.2 262.4 L804.5 262 L804.9 261.6 L805.2 261.2 L805.6 260.8 L805.9 260.4 L806.3 260 L811.5 253.4 L812.8 252.3 L814.7 250.7 L816.9 248.9 L819.3 246.9 L821.7 245.1 L823.9 243.5 L825.9 242.2 L827.8 241.1 L829.7 240 L831.7 239 L833.9 238 L836.3 236.9 L839.1 235.7 L842.3 234.4 L845.7 233 L849 231.7 L852.2 230.5 L855 229.5 L857.3 228.7 L859.1 228.2 L860.8 227.8 L862.4 227.3 L864.4 226.7 L866.9 225.8 L870.2 224.5 L874.3 222.8 L878.6 221 L882.8 219.2 L886.3 217.7 L888.8 216.6Z" fill="#4176ba" stroke="#1f64b2" stroke-width="1"/><path d="M865.6 325.9 L865.6 326.2 L865.5 326.6 L865.5 327 L865.4 327.3 L865.3 327.7 L865.3 328.1 L865.2 328.5 L865.1 328.8 L865 329.2 L864.9 329.6 L864.7 330 L864.6 330.3 L864.5 330.7 L864.3 331.1 L864.2 331.5 L864 331.8 L863.8 332.2 L863.6 332.6 L863.4 333 L863.2 333.4 L863 333.8 L862.8 334.1 L862.6 334.5 L862.3 334.9 L862.1 335.3 L861.8 335.7 L861.6 336.1 L861.3 336.5 L861 336.8 L860.7 337.2 L860.5 337.6 L860.2 338 L859.8 338.4 L859.5 338.8 L859.2 339.2 L858.9 339.6 L858.5 340 L858.2 340.4 L857.8 340.8 L857.5 341.2 L857.1 341.6 L856.7 342 L856.3 342.4 L855.9 342.8 L855.5 343.2 L855.1 343.6 L854.7 344 L854.3 344.4 L853.9 344.8 L853.4 345.2 L853 345.6 L852.6 346 L852.1 346.4 L851.7 346.8 L851.2 347.2 L850.7 347.6 L850.2 348 L849.8 348.4 L849.3 348.8 L848.8 349.2 L848.3 349.6 L847.8 350 L847.3 350.4 L846.8 350.8 L846.3 351.2 L845.7 351.7 L845.2 352.1 L844.7 352.5 L844.2 352.9 L843.6 353.3 L843.1 353.7 L842.5 354.1 L842 354.5 L841.4 354.9 L840.9 355.4 L840.3 355.8 L839.7 356.2 L839.2 356.6 L838.6 357 L838 357.4 L837.4 357.8 L836.9 358.3 L836.3 358.7 L835.7 359.1 L835.1 359.5 L834.5 359.9 L833.9 360.3 L833.3 360.8 L832.8 361.2 L832.2 361.6 L831.6 362 L831 362.4 L830.4 362.8 L829.8 363.2 L829.2 363.7 L828.6 364.1 L828 364.5 L827.4 364.9 L826.8 365.3 L826.1 365.8 L825.5 366.2 L824.9 366.6 L824.3 367 L823.7 367.4 L823.1 367.8 L822.5 368.3 L821.9 368.7 L821.3 369.1 L820.7 369.5 L820.1 369.9 L819.5 370.3 L819 370.7 L818.4 371.2 L817.8 371.6 L817.2 372 L816.6 372.4 L816 372.8 L815.4 373.2 L814.9 373.7 L814.3 374.1 L813.7 374.5 L813.1 374.9 L812.6 375.3 L812 375.7 L811.4 376.1 L810.9 376.6 L810.3 377 L809.8 377.4 L809.2 377.8 L808.7 378.2 L808.1 378.6 L807.6 379 L807.1 379.4 L806.6 379.8 L806 380.3 L805.5 380.7 L805 381.1 L804.5 381.5 L804 381.9 L803.5 382.3 L803 382.7 L802.5 383.1 L802 383.5 L801.6 383.9 L801.1 384.3 L800.6 384.7 L800.2 385.1 L799.7 385.5 L799.3 385.9 L798.9 386.3 L798.4 386.7 L798 387.1 L797.6 387.5 L797.2 387.9 L796.8 388.3 L796.4 388.7 L796 389.1 L795.6 389.5 L795.2 389.9 L794.8 390.3 L794.5 390.7 L794.1 391.1 L793.8 391.5 L793.4 391.9 L793.1 392.3 L792.8 392.7 L792.5 393.1 L792.1 393.5 L791.8 393.9 L791.6 394.3 L791.3 394.7 L791 395 L790.7 395.4 L790.5 395.8 L790.2 396.2 L790 396.6 L789.7 397 L789.5 397.4 L789.3 397.7 L789.1 398.1 L788.9 398.5 L788.7 398.9 L788.5 399.3 L788.3 399.7 L788.1 400 L788 400.4 L787.8 400.8 L787.7 401.2 L787.6 401.5 L787.4 401.9 L787.3 402.3 L787.2 402.7 L787.1 403 L787 403.4 L787 403.8 L786.9 404.2 L786.8 404.5 L786.8 404.9 L786.7 405.3 L786.7 405.6 L786.7 422.1 L786.7 421.8 L786.8 421.4 L786.8 421 L786.9 420.7 L787 420.3 L787 419.9 L787.1 419.5 L787.2 419.2 L787.3 418.8 L787.4 418.4 L787.6 418 L787.7 417.7 L787.8 417.3 L788 416.9 L788.1 416.5 L788.3 416.2 L788.5 415.8 L788.7 415.4 L788.9 415 L789.1 414.6 L789.3 414.2 L789.5 413.9 L789.7 413.5 L790 413.1 L790.2 412.7 L790.5 412.3 L790.7 411.9 L791 411.5 L791.3 411.2 L791.6 410.8 L791.8 410.4 L792.1 410 L792.5 409.6 L792.8 409.2 L793.1 408.8 L793.4 408.4 L793.8 408 L794.1 407.6 L794.5 407.2 L794.8 406.8 L795.2 406.4 L795.6 406 L796 405.6 L796.4 405.2 L796.8 404.8 L797.2 404.4 L797.6 404 L798 403.6 L798.4 403.2 L798.9 402.8 L799.3 402.4 L799.7 402 L800.2 401.6 L800.6 401.2 L801.1 400.8 L801.6 400.4 L802 400 L802.5 399.6 L803 399.2 L803.5 398.8 L804 398.4 L804.5 398 L805 397.6 L805.5 397.2 L806 396.8 L806.6 396.3 L807.1 395.9 L807.6 395.5 L808.1 395.1 L808.7 394.7 L809.2 394.3 L809.8 393.9 L810.3 393.5 L810.9 393.1 L811.4 392.6 L812 392.2 L812.6 391.8 L813.1 391.4 L813.7 391 L814.3 390.6 L814.9 390.2 L815.4 389.7 L816 389.3 L816.6 388.9 L817.2 388.5 L817.8 388.1 L818.4 387.7 L819 387.2 L819.5 386.8 L820.1 386.4 L820.7 386 L821.3 385.6 L821.9 385.2 L822.5 384.8 L823.1 384.3 L823.7 383.9 L824.3 383.5 L824.9 383.1 L825.5 382.7 L826.1 382.2 L826.8 381.8 L827.4 381.4 L828 381 L828.6 380.6 L829.2 380.2 L829.8 379.7 L830.4 379.3 L831 378.9 L831.6 378.5 L832.2 378.1 L832.8 377.7 L833.3 377.3 L833.9 376.8 L834.5 376.4 L835.1 376 L835.7 375.6 L836.3 375.2 L836.9 374.8 L837.4 374.3 L838 373.9 L838.6 373.5 L839.2 373.1 L839.7 372.7 L840.3 372.3 L840.9 371.9 L841.4 371.4 L842 371 L842.5 370.6 L843.1 370.2 L843.6 369.8 L844.2 369.4 L844.7 369 L845.2 368.6 L845.7 368.2 L846.3 367.7 L846.8 367.3 L847.3 366.9 L847.8 366.5 L848.3 366.1 L848.8 365.7 L849.3 365.3 L849.8 364.9 L850.2 364.5 L850.7 364.1 L851.2 363.7 L851.7 363.3 L852.1 362.9 L852.6 362.5 L853 362.1 L853.4 361.7 L853.9 361.3 L854.3 360.9 L854.7 360.5 L855.1 360.1 L855.5 359.7 L855.9 359.3 L856.3 358.9 L856.7 358.5 L857.1 358.1 L857.5 357.7 L857.8 357.3 L858.2 356.9 L858.5 356.5 L858.9 356.1 L859.2 355.7 L859.5 355.3 L859.8 354.9 L860.2 354.5 L860.5 354.1 L860.7 353.7 L861 353.3 L861.3 353 L861.6 352.6 L861.8 352.2 L862.1 351.8 L862.3 351.4 L862.6 351 L862.8 350.6 L863 350.3 L863.2 349.9 L863.4 349.5 L863.6 349.1 L863.8 348.7 L864 348.3 L864.2 348 L864.3 347.6 L864.5 347.2 L864.6 346.8 L864.7 346.5 L864.9 346.1 L865 345.7 L865.1 345.3 L865.2 345 L865.3 344.6 L865.3 344.2 L865.4 343.8 L865.5 343.5 L865.5 343.1 L865.6 342.7 L865.6 342.4Z" fill="#4176ba" stroke="#1f64b2" stroke-width="1"/><path d="M868.8 285.9 L868.7 286.3 L868.7 286.6 L868.6 287 L868.6 287.4 L868.5 287.7 L868.4 288.1 L868.3 288.5 L868.2 288.8 L868.1 289.2 L868 289.6 L867.9 289.9 L867.8 290.3 L867.6 290.7 L867.5 291.1 L867.3 291.4 L867.2 291.8 L867 292.2 L866.8 292.6 L866.6 292.9 L866.4 293.3 L866.2 293.7 L866 294.1 L865.7 294.4 L865.5 294.8 L865.3 295.2 L865 295.6 L864.7 296 L864.5 296.4 L864.2 296.7 L863.9 297.1 L863.6 297.5 L863.3 297.9 L863 298.3 L862.7 298.7 L862.4 299.1 L862 299.4 L861.7 299.8 L861.3 300.2 L861 300.6 L860.6 301 L860.3 301.4 L859.9 301.8 L859.5 302.2 L859.1 302.6 L858.7 303 L858.3 303.4 L857.9 303.8 L857.5 304.1 L857.1 304.5 L856.6 304.9 L856.2 305.3 L855.7 305.7 L855.3 306.1 L854.8 306.5 L854.4 306.9 L853.9 307.3 L853.4 307.7 L852.9 308.1 L852.5 308.5 L852 308.9 L851.5 309.3 L851 309.7 L850.5 310.1 L850 310.5 L849.4 310.9 L848.9 311.4 L848.4 311.8 L847.9 312.2 L847.3 312.6 L846.8 313 L846.3 313.4 L845.7 313.8 L845.2 314.2 L844.6 314.6 L844 315 L843.5 315.4 L842.9 315.8 L842.4 316.2 L841.8 316.6 L841.2 317 L840.6 317.5 L840.1 317.9 L839.5 318.3 L838.9 318.7 L838.3 319.1 L837.7 319.5 L837.1 319.9 L836.5 320.3 L835.9 320.7 L835.4 321.1 L834.8 321.6 L834.2 322 L833.6 322.4 L833 322.8 L832.4 323.2 L831.8 323.6 L831.2 324 L830.6 324.4 L830 324.8 L829.3 325.2 L828.7 325.7 L828.1 326.1 L827.5 326.5 L826.9 326.9 L826.3 327.3 L825.7 327.7 L825.1 328.1 L824.5 328.5 L823.9 328.9 L823.3 329.4 L822.8 329.8 L822.2 330.2 L821.6 330.6 L821 331 L820.4 331.4 L819.8 331.8 L819.2 332.2 L818.6 332.6 L818.1 333 L817.5 333.5 L816.9 333.9 L816.3 334.3 L815.8 334.7 L815.2 335.1 L814.6 335.5 L814.1 335.9 L813.5 336.3 L813 336.7 L812.4 337.1 L811.9 337.5 L811.4 337.9 L810.8 338.3 L810.3 338.7 L809.8 339.1 L809.3 339.6 L808.7 340 L808.2 340.4 L807.7 340.8 L807.2 341.2 L806.7 341.6 L806.2 342 L805.7 342.4 L805.3 342.8 L804.8 343.2 L804.3 343.6 L803.9 344 L803.4 344.4 L803 344.8 L802.5 345.2 L802.1 345.6 L801.6 346 L801.2 346.4 L800.8 346.7 L800.4 347.1 L800 347.5 L799.6 347.9 L799.2 348.3 L798.8 348.7 L798.4 349.1 L798.1 349.5 L797.7 349.9 L797.3 350.3 L797 350.7 L796.7 351.1 L796.3 351.4 L796 351.8 L795.7 352.2 L795.4 352.6 L795.1 353 L794.8 353.4 L794.5 353.8 L794.2 354.1 L794 354.5 L793.7 354.9 L793.4 355.3 L793.2 355.7 L793 356.1 L792.7 356.4 L792.5 356.8 L792.3 357.2 L792.1 357.6 L791.9 357.9 L791.7 358.3 L791.5 358.7 L791.4 359.1 L791.2 359.4 L791.1 359.8 L790.9 360.2 L790.8 360.6 L790.7 360.9 L790.6 361.3 L790.5 361.7 L790.4 362 L790.3 362.4 L790.2 362.8 L790.1 363.1 L790.1 363.5 L790 363.9 L790 364.2 L789.9 364.6 L789.9 381.1 L790 380.7 L790 380.4 L790.1 380 L790.1 379.6 L790.2 379.3 L790.3 378.9 L790.4 378.5 L790.5 378.2 L790.6 377.8 L790.7 377.4 L790.8 377.1 L790.9 376.7 L791.1 376.3 L791.2 375.9 L791.4 375.6 L791.5 375.2 L791.7 374.8 L791.9 374.4 L792.1 374.1 L792.3 373.7 L792.5 373.3 L792.7 372.9 L793 372.6 L793.2 372.2 L793.4 371.8 L793.7 371.4 L794 371 L794.2 370.6 L794.5 370.3 L794.8 369.9 L795.1 369.5 L795.4 369.1 L795.7 368.7 L796 368.3 L796.3 367.9 L796.7 367.6 L797 367.2 L797.3 366.8 L797.7 366.4 L798.1 366 L798.4 365.6 L798.8 365.2 L799.2 364.8 L799.6 364.4 L800 364 L800.4 363.6 L800.8 363.2 L801.2 362.9 L801.6 362.5 L802.1 362.1 L802.5 361.7 L803 361.3 L803.4 360.9 L803.9 360.5 L804.3 360.1 L804.8 359.7 L805.3 359.3 L805.7 358.9 L806.2 358.5 L806.7 358.1 L807.2 357.7 L807.7 357.3 L808.2 356.9 L808.7 356.5 L809.3 356.1 L809.8 355.6 L810.3 355.2 L810.8 354.8 L811.4 354.4 L811.9 354 L812.4 353.6 L813 353.2 L813.5 352.8 L814.1 352.4 L814.6 352 L815.2 351.6 L815.8 351.2 L816.3 350.8 L816.9 350.4 L817.5 350 L818.1 349.5 L818.6 349.1 L819.2 348.7 L819.8 348.3 L820.4 347.9 L821 347.5 L821.6 347.1 L822.2 346.7 L822.8 346.3 L823.3 345.9 L823.9 345.4 L824.5 345 L825.1 344.6 L825.7 344.2 L826.3 343.8 L826.9 343.4 L827.5 343 L828.1 342.6 L828.7 342.2 L829.3 341.8 L830 341.3 L830.6 340.9 L831.2 340.5 L831.8 340.1 L832.4 339.7 L833 339.3 L833.6 338.9 L834.2 338.5 L834.8 338.1 L835.4 337.6 L835.9 337.2 L836.5 336.8 L837.1 336.4 L837.7 336 L838.3 335.6 L838.9 335.2 L839.5 334.8 L840.1 334.4 L840.6 334 L841.2 333.5 L841.8 333.1 L842.4 332.7 L842.9 332.3 L843.5 331.9 L844 331.5 L844.6 331.1 L845.2 330.7 L845.7 330.3 L846.3 329.9 L846.8 329.5 L847.3 329.1 L847.9 328.7 L848.4 328.3 L848.9 327.9 L849.4 327.4 L850 327 L850.5 326.6 L851 326.2 L851.5 325.8 L852 325.4 L852.5 325 L852.9 324.6 L853.4 324.2 L853.9 323.8 L854.4 323.4 L854.8 323 L855.3 322.6 L855.7 322.2 L856.2 321.8 L856.6 321.4 L857.1 321 L857.5 320.6 L857.9 320.3 L858.3 319.9 L858.7 319.5 L859.1 319.1 L859.5 318.7 L859.9 318.3 L860.3 317.9 L860.6 317.5 L861 317.1 L861.3 316.7 L861.7 316.3 L862 315.9 L862.4 315.6 L862.7 315.2 L863 314.8 L863.3 314.4 L863.6 314 L863.9 313.6 L864.2 313.2 L864.5 312.9 L864.7 312.5 L865 312.1 L865.3 311.7 L865.5 311.3 L865.7 310.9 L866 310.6 L866.2 310.2 L866.4 309.8 L866.6 309.4 L866.8 309.1 L867 308.7 L867.2 308.3 L867.3 307.9 L867.5 307.6 L867.6 307.2 L867.8 306.8 L867.9 306.4 L868 306.1 L868.1 305.7 L868.2 305.3 L868.3 305 L868.4 304.6 L868.5 304.2 L868.6 303.9 L868.6 303.5 L868.7 303.1 L868.7 302.8 L868.8 302.4Z" fill="#4176ba" stroke="#1f64b2" stroke-width="1"/><path d="M857.3 430.9 L857.3 431.3 L857.2 431.7 L857.2 432.1 L857.1 432.5 L857 432.8 L856.9 433.2 L856.7 435.9 L856.5 437.6 L856.4 439.5 L856.2 441.5 L855.9 443.4 L855.5 445 L855.1 446.2 L854.6 447.3 L854 448.2 L853.4 449.1 L852.7 450 L851.9 451 L851 452.1 L850.1 453.2 L849.1 454.3 L848 455.4 L846.6 456.6 L845 457.9 L843.1 459.2 L840.9 460.6 L838.6 462.1 L836 463.6 L833.2 465.1 L830.3 466.6 L827 468.2 L823.3 469.8 L819.5 471.5 L815.6 473.1 L811.9 474.7 L808.7 476.1 L805.8 477.4 L802.9 478.7 L800.3 479.8 L798 480.9 L796 481.8 L794.6 482.4 L764.8 494.5 L764.8 494.5 L794.6 496.7 L795 496.5 L795.4 496.3 L796 496 L796.8 495.5 L798.1 494.9 L800 494 L802.7 492.7 L806.2 491.1 L810 489.3 L814.1 487.4 L818.1 485.6 L821.6 483.9 L824.8 482.3 L828 480.8 L831.1 479.3 L833.9 477.9 L836.6 476.5 L839 475.2 L841.1 473.9 L842.9 472.8 L844.5 471.6 L845.9 470.5 L847.3 469.4 L848.5 468.3 L849.6 467.2 L850.6 466.1 L851.5 465.1 L852.3 463.9 L853 462.7 L853.7 461.4 L854.4 459.8 L855 457.9 L855.6 455.9 L856.1 454 L856.5 452.4 L856.9 449.7 L857 449.3 L857.1 449 L857.2 448.6 L857.2 448.2 L857.3 447.8 L857.3 447.4Z" fill="#4176ba" stroke="#1f64b2" stroke-width="1"/></g>
<path d="M1439.4 259.9A29 29 0 0 1 1493.8 279.7M1475.8 244.4L1491.2 202.2" fill="none" stroke="#4f86c4" stroke-width="10.8"/>
<path d="M1491.9 283.3A28.5 28.5 0 0 1 1438.5 263.8M1456.2 298.5L1442.5 336.1" fill="none" stroke="#a0a2a6" stroke-width="11"/>
<circle cx="1520" cy="118.5" r="97.5" fill="#d9e0f1" stroke="#4f86c4" stroke-width="1" />
<ellipse cx="1520.5" cy="119.3" rx="65" ry="53" transform="rotate(25 1520.5 119.3)" fill="#94aed9" stroke="#4f86c4" stroke-width="1"/>
<text x="1520.2" y="115.4" text-anchor="middle" font-size="20.9">T cell</text>
<text x="1520.2" y="137" text-anchor="middle" font-size="20.9">activated</text>
<g transform="translate(1015.5 1)"><path d="M303 252.3C309.8 252.2 316.6 255.6 323.3 258.6C330 261.7 336.6 266.2 343.3 270.6C350 275.1 356.7 280.2 363.3 285.3C369.9 290.4 376.6 296 383.2 301.3C389.8 306.6 396 312.6 403.2 317.3C410.4 322 416 325.1 426.6 329.3C437.2 333.5 453.3 338.2 466.6 342.6C479.9 347.1 496.3 351.6 506.5 356C516.7 360.4 522.5 363.7 527.8 369C533.1 374.3 536.3 382.7 538.5 388C540.7 393.3 541.5 394.8 541 401C540.5 407.2 538.9 416.1 535.8 425C532.7 433.9 526.5 446.7 522.5 454.5C518.5 462.3 515.7 463.1 511.6 472C507.5 480.9 499.7 495.9 497.7 507.9C495.7 519.9 496.6 531.8 499.6 543.8C502.6 555.8 512.3 569.1 515.6 579.8C518.9 590.4 520.9 599.1 519.6 607.7C518.3 616.4 514.2 626 507.6 631.7C501 637.4 491 639 479.7 641.7C468.4 644.4 453 644.1 439.7 647.7C426.4 651.4 409.8 658.2 399.8 663.6C389.9 669 385.6 675 380 680C374.4 685 372.1 688.2 366.5 693.3C360.9 698.4 353.2 705.7 346.5 710.6C339.8 715.5 333.6 719.8 326.5 722.6C319.4 725.4 311.7 727.4 303.9 727.2C296.1 727 287.2 724.6 279.9 721.2C272.6 717.8 266.6 712.8 260 706.6C253.3 700.4 246.7 690.5 240 684C233.3 677.5 226.9 671.7 220 667.3C213.1 662.9 208.1 660.9 198.8 657.6C189.5 654.3 175.7 651.3 164.2 647.3C152.7 643.3 138.8 638.9 129.6 633.4C120.4 627.9 113.2 620.7 108.8 614.4C104.4 608.1 103.6 601.2 103.3 595.4C103 589.6 104.1 585.9 107.1 579.8C110 573.7 115.2 565.6 121 559C126.8 552.4 136.5 548.5 141.7 540C146.8 531.5 151.2 518.6 151.9 507.9C152.6 497.2 150.5 486.9 145.9 476C141.3 465.1 130.8 454.2 124.3 442.2C117.8 430.2 110.1 415.2 106.7 404C103.3 392.8 102.8 383.1 103.8 374.8C104.8 366.5 107.7 359.7 112.6 354.3C117.5 348.9 124.2 344.6 133 342.6C141.8 340.7 154.5 342.6 165.3 342.6C176.1 342.6 186.8 344.6 197.6 342.6C208.3 340.7 221 336.8 229.8 330.9C238.6 325 244.4 316.2 250.3 307.4C256.2 298.6 259.6 286.1 265 278C270.4 269.9 276.3 263.3 282.6 259C288.9 254.7 296.2 252.4 303 252.3Z" fill="#dcdddf" stroke="#8e8e8e" stroke-width="1"/></g>
<ellipse cx="1407.5" cy="523" rx="81.1" ry="99.6" transform="rotate(-40 1407.5 523)" fill="#c6c7ca"/>
<circle cx="1315.4" cy="479.6" r="120.2" fill="#fff" stroke="#111" stroke-width="1.4"/>
<circle cx="1465.9" cy="271.7" r="17.7" fill="#f8ddd0" stroke="#ea7e66" stroke-width="1" />
<circle cx="1174.8" cy="258.2" r="17.6" fill="#f8ddd0" stroke="#ea7e66" stroke-width="1" />
<circle cx="1153.4" cy="306" r="17.6" fill="#f8ddd0" stroke="#ea7e66" stroke-width="1" />
<circle cx="1239.8" cy="292.8" r="17.6" fill="#f8ddd0" stroke="#ea7e66" stroke-width="1" />
<circle cx="1326.3" cy="399.1" r="15.6" fill="#f8ddd0" stroke="#ea7e66" stroke-width="1" />
<circle cx="1287.3" cy="449" r="15.6" fill="#f8ddd0" stroke="#ea7e66" stroke-width="1" />
<circle cx="1352" cy="454.8" r="15.6" fill="#f8ddd0" stroke="#ea7e66" stroke-width="1" />
<g transform="translate(1017.5 2.7)"><path d="M173 314C165 375 185 412 235 424.5" fill="none" stroke="#111" stroke-width="1.7"/><path d="M241 426.6L233.5 419.2L234.5 424.8L230.8 429.5Z" fill="#111" stroke="#111" stroke-width="0.8" stroke-linejoin="round"/></g>
<path d="M1358.8 426.8C1358 390 1375 355 1417 335" fill="none" stroke="#111" stroke-width="1.6"/>
<path d="M1424.2 331.3L1415.5 340.5L1416.3 334.6L1411.2 331.5Z" fill="#111" stroke="#111" stroke-width="0.8" stroke-linejoin="round"/>
<path d="M1376.9 358.6L1383.7 353.7L1395 370.7Q1408 356 1425.7 349Q1405 362 1393.3 381.6Z" fill="#4e9e44"/>
<path d="M1387.5 500.1L1382.7 469.5A31 31 0 1 1 1358.4 489.5Z" fill="#a0a1a5" stroke="#77787b" stroke-width="1"/>
<path d="M1313.3 540.8C1330 546 1345 540 1358.6 526.6M1350.3 516.6L1369.3 535.3" fill="none" stroke="#111" stroke-width="1.8"/>
<path d="M1270.9 545.4L1279.9 542.2" stroke="#111" stroke-width="1"/>
<circle cx="1293.5" cy="542.2" r="13.6" fill="#f2a38c" stroke="#e0283c" stroke-width="1" />
<g transform="translate(1245.9 441) rotate(-22) scale(0.4) translate(-889 -216)"><path d="M798.3 258.6 L798.3 259 L798.3 259.4 L798.3 259.7 L798.3 260.1 L798.3 260.5 L798.3 260.8 L798.3 261.2 L798.4 261.6 L798.4 261.9 L798.5 262.3 L798.5 262.6 L798.6 263 L798.7 263.3 L798.8 263.7 L798.9 264.1 L799 264.4 L799.1 264.8 L799.2 265.1 L799.4 265.5 L799.5 265.8 L799.7 266.2 L799.8 266.5 L800 266.9 L800.2 267.2 L800.4 267.6 L800.6 267.9 L800.8 268.3 L801 268.6 L801.2 269 L801.4 269.3 L801.7 269.7 L801.9 270 L802.2 270.4 L802.4 270.7 L802.7 271 L803 271.4 L803.2 271.7 L803.5 272.1 L803.8 272.4 L804.1 272.7 L804.4 273.1 L804.8 273.4 L805.1 273.7 L805.4 274.1 L805.8 274.4 L806.1 274.8 L806.5 275.1 L806.8 275.4 L807.2 275.8 L807.6 276.1 L807.9 276.4 L808.3 276.8 L808.7 277.1 L809.1 277.4 L809.5 277.7 L809.9 278.1 L810.4 278.4 L810.8 278.7 L811.2 279.1 L811.6 279.4 L812.1 279.7 L812.5 280 L813 280.4 L813.4 280.7 L813.9 281 L814.3 281.4 L814.8 281.7 L815.3 282 L815.8 282.3 L816.2 282.6 L816.7 283 L817.2 283.3 L817.7 283.6 L818.2 283.9 L818.7 284.3 L819.2 284.6 L819.7 284.9 L820.2 285.2 L820.7 285.5 L821.2 285.9 L821.8 286.2 L822.3 286.5 L822.8 286.8 L823.3 287.1 L823.9 287.5 L824.4 287.8 L824.9 288.1 L825.5 288.4 L826 288.7 L826.5 289.1 L827.1 289.4 L827.6 289.7 L828.1 290 L828.7 290.3 L829.2 290.7 L829.8 291 L830.3 291.3 L830.9 291.6 L831.4 291.9 L832 292.2 L832.5 292.6 L833 292.9 L833.6 293.2 L834.1 293.5 L834.7 293.8 L835.2 294.2 L835.8 294.5 L836.3 294.8 L836.8 295.1 L837.4 295.4 L837.9 295.8 L838.5 296.1 L839 296.4 L839.5 296.7 L840.1 297 L840.6 297.4 L841.1 297.7 L841.6 298 L842.2 298.3 L842.7 298.6 L843.2 299 L843.7 299.3 L844.2 299.6 L844.7 299.9 L845.2 300.2 L845.7 300.6 L846.2 300.9 L846.7 301.2 L847.2 301.5 L847.7 301.9 L848.2 302.2 L848.6 302.5 L849.1 302.8 L849.6 303.1 L850 303.5 L850.5 303.8 L850.9 304.1 L851.4 304.5 L851.8 304.8 L852.3 305.1 L852.7 305.4 L853.1 305.8 L853.6 306.1 L854 306.4 L854.4 306.8 L854.8 307.1 L855.2 307.4 L855.6 307.7 L856 308.1 L856.3 308.4 L856.7 308.7 L857.1 309.1 L857.4 309.4 L857.8 309.7 L858.1 310.1 L858.5 310.4 L858.8 310.8 L859.1 311.1 L859.5 311.4 L859.8 311.8 L860.1 312.1 L860.4 312.4 L860.7 312.8 L861 313.1 L861.2 313.5 L861.5 313.8 L861.8 314.1 L862 314.5 L862.3 314.8 L862.5 315.2 L862.7 315.5 L862.9 315.9 L863.1 316.2 L863.3 316.6 L863.5 316.9 L863.7 317.3 L863.9 317.6 L864.1 318 L864.2 318.3 L864.4 318.7 L864.5 319 L864.7 319.4 L864.8 319.7 L864.9 320.1 L865 320.4 L865.1 320.8 L865.2 321.2 L865.3 321.5 L865.4 321.9 L865.4 322.2 L865.5 322.6 L865.5 322.9 L865.6 323.3 L865.6 323.7 L865.6 324 L865.6 324.4 L865.6 324.8 L865.6 325.1 L865.6 325.5 L865.6 325.9 L865.6 342.4 L865.6 342 L865.6 341.6 L865.6 341.3 L865.6 340.9 L865.6 340.5 L865.6 340.2 L865.6 339.8 L865.5 339.4 L865.5 339.1 L865.4 338.7 L865.4 338.4 L865.3 338 L865.2 337.7 L865.1 337.3 L865 336.9 L864.9 336.6 L864.8 336.2 L864.7 335.9 L864.5 335.5 L864.4 335.2 L864.2 334.8 L864.1 334.5 L863.9 334.1 L863.7 333.8 L863.5 333.4 L863.3 333.1 L863.1 332.7 L862.9 332.4 L862.7 332 L862.5 331.7 L862.3 331.3 L862 331 L861.8 330.6 L861.5 330.3 L861.2 330 L861 329.6 L860.7 329.3 L860.4 328.9 L860.1 328.6 L859.8 328.3 L859.5 327.9 L859.1 327.6 L858.8 327.3 L858.5 326.9 L858.1 326.6 L857.8 326.2 L857.4 325.9 L857.1 325.6 L856.7 325.2 L856.3 324.9 L856 324.6 L855.6 324.2 L855.2 323.9 L854.8 323.6 L854.4 323.3 L854 322.9 L853.6 322.6 L853.1 322.3 L852.7 321.9 L852.3 321.6 L851.8 321.3 L851.4 321 L850.9 320.6 L850.5 320.3 L850 320 L849.6 319.6 L849.1 319.3 L848.6 319 L848.2 318.7 L847.7 318.4 L847.2 318 L846.7 317.7 L846.2 317.4 L845.7 317.1 L845.2 316.7 L844.7 316.4 L844.2 316.1 L843.7 315.8 L843.2 315.5 L842.7 315.1 L842.2 314.8 L841.6 314.5 L841.1 314.2 L840.6 313.9 L840.1 313.5 L839.5 313.2 L839 312.9 L838.5 312.6 L837.9 312.3 L837.4 311.9 L836.8 311.6 L836.3 311.3 L835.8 311 L835.2 310.7 L834.7 310.3 L834.1 310 L833.6 309.7 L833 309.4 L832.5 309.1 L832 308.8 L831.4 308.4 L830.9 308.1 L830.3 307.8 L829.8 307.5 L829.2 307.2 L828.7 306.8 L828.1 306.5 L827.6 306.2 L827.1 305.9 L826.5 305.6 L826 305.2 L825.5 304.9 L824.9 304.6 L824.4 304.3 L823.9 304 L823.3 303.6 L822.8 303.3 L822.3 303 L821.8 302.7 L821.2 302.4 L820.7 302 L820.2 301.7 L819.7 301.4 L819.2 301.1 L818.7 300.8 L818.2 300.4 L817.7 300.1 L817.2 299.8 L816.7 299.5 L816.2 299.1 L815.8 298.8 L815.3 298.5 L814.8 298.2 L814.3 297.9 L813.9 297.5 L813.4 297.2 L813 296.9 L812.5 296.5 L812.1 296.2 L811.6 295.9 L811.2 295.6 L810.8 295.2 L810.4 294.9 L809.9 294.6 L809.5 294.2 L809.1 293.9 L808.7 293.6 L808.3 293.3 L807.9 292.9 L807.6 292.6 L807.2 292.3 L806.8 291.9 L806.5 291.6 L806.1 291.3 L805.8 290.9 L805.4 290.6 L805.1 290.2 L804.8 289.9 L804.4 289.6 L804.1 289.2 L803.8 288.9 L803.5 288.6 L803.2 288.2 L803 287.9 L802.7 287.5 L802.4 287.2 L802.2 286.9 L801.9 286.5 L801.7 286.2 L801.4 285.8 L801.2 285.5 L801 285.1 L800.8 284.8 L800.6 284.4 L800.4 284.1 L800.2 283.7 L800 283.4 L799.8 283 L799.7 282.7 L799.5 282.3 L799.4 282 L799.2 281.6 L799.1 281.3 L799 280.9 L798.9 280.6 L798.8 280.2 L798.7 279.8 L798.6 279.5 L798.5 279.1 L798.5 278.8 L798.4 278.4 L798.4 278.1 L798.3 277.7 L798.3 277.3 L798.3 277 L798.3 276.6 L798.3 276.2 L798.3 275.9 L798.3 275.5 L798.3 275.1Z" fill="#8ea6d5" stroke="#1f64b2" stroke-width="2.4"/><path d="M786.7 405.6 L786.7 406 L786.7 406.4 L786.7 406.7 L786.7 407.1 L786.7 407.5 L786.7 407.8 L786.7 408.2 L786.8 408.6 L786.8 408.9 L786.9 409.3 L786.9 409.6 L787 410 L787.1 410.3 L787.2 410.7 L787.3 411.1 L787.4 411.4 L787.5 411.8 L787.6 412.1 L787.8 412.5 L787.9 412.8 L788.1 413.2 L788.2 413.5 L788.4 413.9 L788.6 414.2 L788.8 414.6 L788.9 414.9 L789.2 415.3 L789.4 415.6 L789.6 416 L789.8 416.3 L790 416.7 L790.3 417 L790.5 417.4 L790.8 417.7 L791.1 418 L791.3 418.4 L791.6 418.7 L791.9 419.1 L792.2 419.4 L792.5 419.7 L792.8 420.1 L793.1 420.4 L793.5 420.7 L793.8 421.1 L794.1 421.4 L794.5 421.8 L794.8 422.1 L795.2 422.4 L795.6 422.8 L796 423.1 L796.3 423.4 L796.7 423.8 L797.1 424.1 L797.5 424.4 L797.9 424.7 L798.3 425.1 L798.7 425.4 L799.2 425.7 L799.6 426.1 L800 426.4 L800.5 426.7 L800.9 427 L801.4 427.4 L801.8 427.7 L802.3 428 L802.7 428.4 L803.2 428.7 L803.7 429 L804.1 429.3 L804.6 429.6 L805.1 430 L805.6 430.3 L806.1 430.6 L806.6 430.9 L807.1 431.3 L807.6 431.6 L808.1 431.9 L808.6 432.2 L809.1 432.5 L809.6 432.9 L810.1 433.2 L810.7 433.5 L811.2 433.8 L811.7 434.1 L812.2 434.5 L812.8 434.8 L813.3 435.1 L813.8 435.4 L814.4 435.7 L814.9 436.1 L815.5 436.4 L816 436.7 L816.5 437 L817.1 437.3 L817.6 437.7 L818.2 438 L818.7 438.3 L819.3 438.6 L819.8 438.9 L820.3 439.2 L820.9 439.6 L821.4 439.9 L822 440.2 L822.5 440.5 L823.1 440.8 L823.6 441.2 L824.1 441.5 L824.7 441.8 L825.2 442.1 L825.8 442.4 L826.3 442.8 L826.8 443.1 L827.4 443.4 L827.9 443.7 L828.4 444 L829 444.4 L829.5 444.7 L830 445 L830.5 445.3 L831.1 445.6 L831.6 446 L832.1 446.3 L832.6 446.6 L833.1 446.9 L833.6 447.2 L834.1 447.6 L834.6 447.9 L835.1 448.2 L835.6 448.5 L836.1 448.9 L836.5 449.2 L837 449.5 L837.5 449.8 L838 450.1 L838.4 450.5 L838.9 450.8 L839.3 451.1 L839.8 451.5 L840.2 451.8 L840.7 452.1 L841.1 452.4 L841.5 452.8 L841.9 453.1 L842.4 453.4 L842.8 453.8 L843.2 454.1 L843.6 454.4 L844 454.7 L844.4 455.1 L844.7 455.4 L845.1 455.7 L845.5 456.1 L845.8 456.4 L846.2 456.7 L846.5 457.1 L846.9 457.4 L847.2 457.8 L847.5 458.1 L847.9 458.4 L848.2 458.8 L848.5 459.1 L848.8 459.4 L849.1 459.8 L849.3 460.1 L849.5 460.5 L849.8 460.8 L850 461.1 L850.2 461.5 L850.4 461.8 L850.6 462.2 L850.8 462.5 L851 462.9 L851.2 463.2 L851.4 463.6 L851.5 463.9 L851.7 464.3 L851.8 464.6 L851.9 465 L852.1 465.3 L852.2 465.7 L852.3 466 L852.4 466.4 L852.5 466.7 L852.6 467.1 L852.6 467.4 L852.7 467.8 L852.8 468.2 L852.8 468.5 L852.9 468.9 L852.9 469.2 L852.9 469.6 L852.9 469.9 L852.9 470.3 L852.9 470.7 L852.9 471 L852.9 471.4 L852.8 471.8 L852.8 472.1 L852.7 472.5 L852.7 472.9 L852.7 489.4 L852.7 489 L852.8 488.6 L852.8 488.3 L852.9 487.9 L852.9 487.5 L852.9 487.2 L852.9 486.8 L852.9 486.4 L852.9 486.1 L852.9 485.7 L852.9 485.4 L852.8 485 L852.8 484.7 L852.7 484.3 L852.6 483.9 L852.6 483.6 L852.5 483.2 L852.4 482.9 L852.3 482.5 L852.2 482.2 L852.1 481.8 L851.9 481.5 L851.8 481.1 L851.7 480.8 L851.5 480.4 L851.4 480.1 L851.2 479.7 L851 479.4 L850.8 479 L850.6 478.7 L850.4 478.3 L850.2 478 L850 477.6 L849.8 477.3 L849.5 477 L849.3 476.6 L849.1 476.3 L848.8 475.9 L848.5 475.6 L848.2 475.3 L847.9 474.9 L847.5 474.6 L847.2 474.3 L846.9 473.9 L846.5 473.6 L846.2 473.2 L845.8 472.9 L845.5 472.6 L845.1 472.2 L844.7 471.9 L844.4 471.6 L844 471.2 L843.6 470.9 L843.2 470.6 L842.8 470.3 L842.4 469.9 L841.9 469.6 L841.5 469.3 L841.1 468.9 L840.7 468.6 L840.2 468.3 L839.8 468 L839.3 467.6 L838.9 467.3 L838.4 467 L838 466.6 L837.5 466.3 L837 466 L836.5 465.7 L836.1 465.4 L835.6 465 L835.1 464.7 L834.6 464.4 L834.1 464.1 L833.6 463.7 L833.1 463.4 L832.6 463.1 L832.1 462.8 L831.6 462.5 L831.1 462.1 L830.5 461.8 L830 461.5 L829.5 461.2 L829 460.9 L828.4 460.5 L827.9 460.2 L827.4 459.9 L826.8 459.6 L826.3 459.3 L825.8 458.9 L825.2 458.6 L824.7 458.3 L824.1 458 L823.6 457.7 L823.1 457.3 L822.5 457 L822 456.7 L821.4 456.4 L820.9 456.1 L820.3 455.8 L819.8 455.4 L819.3 455.1 L818.7 454.8 L818.2 454.5 L817.6 454.2 L817.1 453.8 L816.5 453.5 L816 453.2 L815.5 452.9 L814.9 452.6 L814.4 452.2 L813.8 451.9 L813.3 451.6 L812.8 451.3 L812.2 451 L811.7 450.6 L811.2 450.3 L810.7 450 L810.1 449.7 L809.6 449.4 L809.1 449 L808.6 448.7 L808.1 448.4 L807.6 448.1 L807.1 447.8 L806.6 447.4 L806.1 447.1 L805.6 446.8 L805.1 446.5 L804.6 446.1 L804.1 445.8 L803.7 445.5 L803.2 445.2 L802.7 444.9 L802.3 444.5 L801.8 444.2 L801.4 443.9 L800.9 443.5 L800.5 443.2 L800 442.9 L799.6 442.6 L799.2 442.2 L798.7 441.9 L798.3 441.6 L797.9 441.2 L797.5 440.9 L797.1 440.6 L796.7 440.3 L796.3 439.9 L796 439.6 L795.6 439.3 L795.2 438.9 L794.8 438.6 L794.5 438.3 L794.1 437.9 L793.8 437.6 L793.5 437.2 L793.1 436.9 L792.8 436.6 L792.5 436.2 L792.2 435.9 L791.9 435.6 L791.6 435.2 L791.3 434.9 L791.1 434.5 L790.8 434.2 L790.5 433.9 L790.3 433.5 L790 433.2 L789.8 432.8 L789.6 432.5 L789.4 432.1 L789.2 431.8 L788.9 431.4 L788.8 431.1 L788.6 430.7 L788.4 430.4 L788.2 430 L788.1 429.7 L787.9 429.3 L787.8 429 L787.6 428.6 L787.5 428.3 L787.4 427.9 L787.3 427.6 L787.2 427.2 L787.1 426.8 L787 426.5 L786.9 426.1 L786.9 425.8 L786.8 425.4 L786.8 425.1 L786.7 424.7 L786.7 424.3 L786.7 424 L786.7 423.6 L786.7 423.2 L786.7 422.9 L786.7 422.5 L786.7 422.1Z" fill="#8ea6d5" stroke="#1f64b2" stroke-width="2.4"/><path d="M852.7 472.9 L852.6 473.2 L852.5 473.6 L852.4 474 L852.3 474.4 L852.2 474.7 L852.1 475.1 L852 475.5 L851.8 475.9 L851.7 476.3 L851.5 476.6 L851.4 477 L851.2 477.4 L851 477.8 L850.8 478.2 L850.6 478.6 L850.4 478.9 L850.2 479.3 L850 479.7 L849.7 480.1 L849.5 480.5 L849.5 497 L849.7 496.6 L850 496.2 L850.2 495.8 L850.4 495.4 L850.6 495.1 L850.8 494.7 L851 494.3 L851.2 493.9 L851.4 493.5 L851.5 493.1 L851.7 492.8 L851.8 492.4 L852 492 L852.1 491.6 L852.2 491.2 L852.3 490.9 L852.4 490.5 L852.5 490.1 L852.6 489.7 L852.7 489.4Z" fill="#8ea6d5" stroke="#1f64b2" stroke-width="2.4"/><path d="M804.8 214 L804.6 214.4 L804.4 214.8 L804.3 215.1 L804.1 215.5 L803.9 215.9 L803.8 216.3 L803.6 216.6 L803.5 217 L803.4 217.4 L803.3 217.7 L803.1 218.1 L803.1 218.5 L803 218.9 L802.9 219.2 L802.8 219.6 L802.8 236.1 L802.9 235.7 L803 235.4 L803.1 235 L803.1 234.6 L803.3 234.2 L803.4 233.9 L803.5 233.5 L803.6 233.1 L803.8 232.8 L803.9 232.4 L804.1 232 L804.3 231.6 L804.4 231.3 L804.6 230.9 L804.8 230.5Z" fill="#8ea6d5" stroke="#1f64b2" stroke-width="2.4"/><path d="M802.8 219.6 L802.8 220 L802.7 220.3 L802.7 220.7 L802.6 221 L802.6 221.4 L802.6 221.8 L802.6 222.1 L802.6 222.5 L802.6 222.8 L802.6 223.2 L802.6 223.5 L802.7 223.9 L802.7 224.2 L802.8 224.6 L802.9 224.9 L802.9 225.3 L803 225.6 L803.1 226 L803.2 226.3 L803.3 226.7 L803.4 227 L803.6 227.4 L803.7 227.7 L803.8 228.1 L804 228.4 L804.2 228.8 L804.3 229.1 L804.5 229.4 L804.7 229.8 L804.9 230.1 L805.1 230.5 L805.3 230.8 L805.5 231.1 L805.7 231.5 L806 231.8 L806.2 232.2 L806.5 232.5 L806.7 232.8 L807 233.2 L807.3 233.5 L807.5 233.8 L807.9 234.2 L808.2 234.5 L808.5 234.8 L808.9 235.2 L809.2 235.5 L809.6 235.8 L809.9 236.2 L810.3 236.5 L810.7 236.8 L811 237.1 L811.4 237.5 L811.8 237.8 L812.2 238.1 L812.6 238.4 L813 238.8 L813.5 239.1 L813.9 239.4 L814.3 239.7 L814.7 240.1 L815.2 240.4 L815.6 240.7 L816.1 241 L816.5 241.4 L817 241.7 L817.4 242 L817.9 242.3 L818.4 242.6 L818.9 243 L819.3 243.3 L819.8 243.6 L820.3 243.9 L820.8 244.2 L821.3 244.6 L821.8 244.9 L822.3 245.2 L822.8 245.5 L823.3 245.8 L823.8 246.1 L824.4 246.5 L824.9 246.8 L825.4 247.1 L825.9 247.4 L826.4 247.7 L827 248 L827.5 248.3 L828 248.7 L828.6 249 L829.1 249.3 L829.6 249.6 L830.2 249.9 L830.7 250.2 L831.3 250.6 L831.8 250.9 L832.4 251.2 L832.9 251.5 L833.4 251.8 L834 252.1 L834.5 252.4 L835.1 252.8 L835.6 253.1 L836.2 253.4 L836.7 253.7 L837.3 254 L837.8 254.3 L838.3 254.6 L838.9 254.9 L839.4 255.3 L840 255.6 L840.5 255.9 L841 256.2 L841.6 256.5 L842.1 256.8 L842.6 257.2 L843.2 257.5 L843.7 257.8 L844.2 258.1 L844.8 258.4 L845.3 258.7 L845.8 259 L846.3 259.4 L846.8 259.7 L847.3 260 L847.8 260.3 L848.3 260.6 L848.8 260.9 L849.3 261.3 L849.8 261.6 L850.3 261.9 L850.8 262.2 L851.3 262.5 L851.8 262.9 L852.2 263.2 L852.7 263.5 L853.2 263.8 L853.6 264.1 L854.1 264.5 L854.5 264.8 L855 265.1 L855.4 265.4 L855.8 265.8 L856.3 266.1 L856.7 266.4 L857.1 266.7 L857.5 267.1 L857.9 267.4 L858.3 267.7 L858.7 268 L859.1 268.4 L859.5 268.7 L859.9 269 L860.2 269.3 L860.6 269.7 L860.9 270 L861.3 270.3 L861.6 270.7 L862 271 L862.3 271.3 L862.6 271.7 L862.9 272 L863.2 272.3 L863.5 272.7 L863.8 273 L864.1 273.3 L864.4 273.7 L864.6 274 L864.9 274.4 L865.2 274.7 L865.4 275 L865.6 275.4 L865.9 275.7 L866.1 276.1 L866.3 276.4 L866.5 276.7 L866.7 277.1 L866.9 277.4 L867.1 277.8 L867.2 278.1 L867.4 278.5 L867.5 278.8 L867.7 279.2 L867.8 279.5 L867.9 279.9 L868.1 280.2 L868.2 280.6 L868.3 280.9 L868.4 281.3 L868.5 281.6 L868.5 282 L868.6 282.3 L868.6 282.7 L868.7 283 L868.7 283.4 L868.8 283.7 L868.8 284.1 L868.8 284.5 L868.8 284.8 L868.8 285.2 L868.8 285.5 L868.8 285.9 L868.8 302.4 L868.8 302 L868.8 301.7 L868.8 301.3 L868.8 301 L868.8 300.6 L868.8 300.2 L868.7 299.9 L868.7 299.5 L868.6 299.2 L868.6 298.8 L868.5 298.5 L868.5 298.1 L868.4 297.8 L868.3 297.4 L868.2 297.1 L868.1 296.7 L867.9 296.4 L867.8 296 L867.7 295.7 L867.5 295.3 L867.4 295 L867.2 294.6 L867.1 294.3 L866.9 293.9 L866.7 293.6 L866.5 293.2 L866.3 292.9 L866.1 292.6 L865.9 292.2 L865.6 291.9 L865.4 291.5 L865.2 291.2 L864.9 290.9 L864.6 290.5 L864.4 290.2 L864.1 289.8 L863.8 289.5 L863.5 289.2 L863.2 288.8 L862.9 288.5 L862.6 288.2 L862.3 287.8 L862 287.5 L861.6 287.2 L861.3 286.8 L860.9 286.5 L860.6 286.2 L860.2 285.8 L859.9 285.5 L859.5 285.2 L859.1 284.9 L858.7 284.5 L858.3 284.2 L857.9 283.9 L857.5 283.6 L857.1 283.2 L856.7 282.9 L856.3 282.6 L855.8 282.3 L855.4 281.9 L855 281.6 L854.5 281.3 L854.1 281 L853.6 280.6 L853.2 280.3 L852.7 280 L852.2 279.7 L851.8 279.4 L851.3 279 L850.8 278.7 L850.3 278.4 L849.8 278.1 L849.3 277.8 L848.8 277.4 L848.3 277.1 L847.8 276.8 L847.3 276.5 L846.8 276.2 L846.3 275.9 L845.8 275.5 L845.3 275.2 L844.8 274.9 L844.2 274.6 L843.7 274.3 L843.2 274 L842.6 273.7 L842.1 273.3 L841.6 273 L841 272.7 L840.5 272.4 L840 272.1 L839.4 271.8 L838.9 271.4 L838.3 271.1 L837.8 270.8 L837.3 270.5 L836.7 270.2 L836.2 269.9 L835.6 269.6 L835.1 269.2 L834.5 268.9 L834 268.6 L833.4 268.3 L832.9 268 L832.4 267.7 L831.8 267.4 L831.3 267.1 L830.7 266.7 L830.2 266.4 L829.6 266.1 L829.1 265.8 L828.6 265.5 L828 265.2 L827.5 264.8 L827 264.5 L826.4 264.2 L825.9 263.9 L825.4 263.6 L824.9 263.3 L824.4 263 L823.8 262.6 L823.3 262.3 L822.8 262 L822.3 261.7 L821.8 261.4 L821.3 261.1 L820.8 260.7 L820.3 260.4 L819.8 260.1 L819.3 259.8 L818.9 259.5 L818.4 259.1 L817.9 258.8 L817.4 258.5 L817 258.2 L816.5 257.9 L816.1 257.5 L815.6 257.2 L815.2 256.9 L814.7 256.6 L814.3 256.2 L813.9 255.9 L813.5 255.6 L813 255.3 L812.6 254.9 L812.2 254.6 L811.8 254.3 L811.4 254 L811 253.6 L810.7 253.3 L810.3 253 L809.9 252.7 L809.6 252.3 L809.2 252 L808.9 251.7 L808.5 251.3 L808.2 251 L807.9 250.7 L807.5 250.3 L807.3 250 L807 249.7 L806.7 249.3 L806.5 249 L806.2 248.7 L806 248.3 L805.7 248 L805.5 247.6 L805.3 247.3 L805.1 247 L804.9 246.6 L804.7 246.3 L804.5 245.9 L804.3 245.6 L804.2 245.3 L804 244.9 L803.8 244.6 L803.7 244.2 L803.6 243.9 L803.4 243.5 L803.3 243.2 L803.2 242.8 L803.1 242.5 L803 242.1 L802.9 241.8 L802.9 241.4 L802.8 241.1 L802.7 240.7 L802.7 240.4 L802.6 240 L802.6 239.7 L802.6 239.3 L802.6 239 L802.6 238.6 L802.6 238.3 L802.6 237.9 L802.6 237.5 L802.7 237.2 L802.7 236.8 L802.8 236.5 L802.8 236.1Z" fill="#8ea6d5" stroke="#1f64b2" stroke-width="2.4"/><path d="M789.9 364.6 L789.9 365 L789.9 365.3 L789.9 365.7 L789.9 366 L789.9 366.4 L789.9 366.8 L790 367.1 L790 367.5 L790 367.8 L790.1 368.2 L790.2 368.5 L790.2 368.9 L790.3 369.2 L790.4 369.6 L790.5 369.9 L790.6 370.3 L790.7 370.6 L790.9 371 L791 371.3 L791.2 371.7 L791.3 372 L791.5 372.4 L791.6 372.7 L791.8 373.1 L792 373.4 L792.2 373.8 L792.4 374.1 L792.6 374.4 L792.8 374.8 L793.1 375.1 L793.3 375.5 L793.5 375.8 L793.8 376.1 L794.1 376.5 L794.3 376.8 L794.6 377.2 L794.9 377.5 L795.2 377.8 L795.5 378.2 L795.8 378.5 L796.1 378.8 L796.4 379.2 L796.7 379.5 L797.1 379.8 L797.4 380.2 L797.8 380.5 L798.1 380.8 L798.5 381.2 L798.8 381.5 L799.2 381.8 L799.6 382.1 L800 382.5 L800.4 382.8 L800.8 383.1 L801.2 383.4 L801.6 383.8 L802 384.1 L802.4 384.4 L802.9 384.7 L803.3 385.1 L803.7 385.4 L804.2 385.7 L804.6 386 L805.1 386.4 L805.5 386.7 L806 387 L806.5 387.3 L806.9 387.6 L807.4 388 L807.9 388.3 L808.4 388.6 L808.9 388.9 L809.4 389.2 L809.9 389.6 L810.4 389.9 L810.9 390.2 L811.4 390.5 L811.9 390.8 L812.4 391.1 L812.9 391.5 L813.4 391.8 L813.9 392.1 L814.5 392.4 L815 392.7 L815.5 393 L816.1 393.3 L816.6 393.7 L817.1 394 L817.7 394.3 L818.2 394.6 L818.7 394.9 L819.3 395.2 L819.8 395.6 L820.4 395.9 L820.9 396.2 L821.4 396.5 L822 396.8 L822.5 397.1 L823.1 397.4 L823.6 397.8 L824.2 398.1 L824.7 398.4 L825.3 398.7 L825.8 399 L826.3 399.3 L826.9 399.6 L827.4 399.9 L828 400.3 L828.5 400.6 L829.1 400.9 L829.6 401.2 L830.1 401.5 L830.7 401.8 L831.2 402.2 L831.7 402.5 L832.3 402.8 L832.8 403.1 L833.3 403.4 L833.8 403.7 L834.3 404 L834.9 404.4 L835.4 404.7 L835.9 405 L836.4 405.3 L836.9 405.6 L837.4 405.9 L837.9 406.3 L838.4 406.6 L838.9 406.9 L839.4 407.2 L839.8 407.5 L840.3 407.9 L840.8 408.2 L841.2 408.5 L841.7 408.8 L842.2 409.1 L842.6 409.5 L843.1 409.8 L843.5 410.1 L844 410.4 L844.4 410.8 L844.8 411.1 L845.2 411.4 L845.7 411.7 L846.1 412.1 L846.5 412.4 L846.9 412.7 L847.3 413 L847.6 413.4 L848 413.7 L848.4 414 L848.8 414.3 L849.1 414.7 L849.5 415 L849.8 415.3 L850.2 415.7 L850.5 416 L850.8 416.3 L851.2 416.7 L851.5 417 L851.8 417.3 L852.1 417.7 L852.4 418 L852.6 418.3 L852.9 418.7 L853.2 419 L853.4 419.4 L853.7 419.7 L853.9 420 L854.2 420.4 L854.4 420.7 L854.6 421.1 L854.8 421.4 L855 421.7 L855.2 422.1 L855.4 422.4 L855.6 422.8 L855.8 423.1 L855.9 423.5 L856.1 423.8 L856.2 424.2 L856.4 424.5 L856.5 424.9 L856.6 425.2 L856.7 425.6 L856.8 425.9 L856.9 426.3 L857 426.6 L857.1 427 L857.1 427.3 L857.2 427.7 L857.2 428 L857.3 428.4 L857.3 428.7 L857.3 429.1 L857.3 429.5 L857.3 429.8 L857.3 430.2 L857.3 430.5 L857.3 430.9 L857.3 447.4 L857.3 447 L857.3 446.7 L857.3 446.3 L857.3 446 L857.3 445.6 L857.3 445.2 L857.3 444.9 L857.2 444.5 L857.2 444.2 L857.1 443.8 L857.1 443.5 L857 443.1 L856.9 442.8 L856.8 442.4 L856.7 442.1 L856.6 441.7 L856.5 441.4 L856.4 441 L856.2 440.7 L856.1 440.3 L855.9 440 L855.8 439.6 L855.6 439.3 L855.4 438.9 L855.2 438.6 L855 438.2 L854.8 437.9 L854.6 437.6 L854.4 437.2 L854.2 436.9 L853.9 436.5 L853.7 436.2 L853.4 435.9 L853.2 435.5 L852.9 435.2 L852.6 434.8 L852.4 434.5 L852.1 434.2 L851.8 433.8 L851.5 433.5 L851.2 433.2 L850.8 432.8 L850.5 432.5 L850.2 432.2 L849.8 431.8 L849.5 431.5 L849.1 431.2 L848.8 430.8 L848.4 430.5 L848 430.2 L847.6 429.9 L847.3 429.5 L846.9 429.2 L846.5 428.9 L846.1 428.6 L845.7 428.2 L845.2 427.9 L844.8 427.6 L844.4 427.3 L844 426.9 L843.5 426.6 L843.1 426.3 L842.6 426 L842.2 425.6 L841.7 425.3 L841.2 425 L840.8 424.7 L840.3 424.4 L839.8 424 L839.4 423.7 L838.9 423.4 L838.4 423.1 L837.9 422.8 L837.4 422.4 L836.9 422.1 L836.4 421.8 L835.9 421.5 L835.4 421.2 L834.9 420.9 L834.3 420.5 L833.8 420.2 L833.3 419.9 L832.8 419.6 L832.3 419.3 L831.7 419 L831.2 418.7 L830.7 418.3 L830.1 418 L829.6 417.7 L829.1 417.4 L828.5 417.1 L828 416.8 L827.4 416.4 L826.9 416.1 L826.3 415.8 L825.8 415.5 L825.3 415.2 L824.7 414.9 L824.2 414.6 L823.6 414.2 L823.1 413.9 L822.5 413.6 L822 413.3 L821.4 413 L820.9 412.7 L820.4 412.4 L819.8 412.1 L819.3 411.7 L818.7 411.4 L818.2 411.1 L817.7 410.8 L817.1 410.5 L816.6 410.2 L816.1 409.8 L815.5 409.5 L815 409.2 L814.5 408.9 L813.9 408.6 L813.4 408.3 L812.9 408 L812.4 407.6 L811.9 407.3 L811.4 407 L810.9 406.7 L810.4 406.4 L809.9 406.1 L809.4 405.7 L808.9 405.4 L808.4 405.1 L807.9 404.8 L807.4 404.5 L806.9 404.1 L806.5 403.8 L806 403.5 L805.5 403.2 L805.1 402.9 L804.6 402.5 L804.2 402.2 L803.7 401.9 L803.3 401.6 L802.9 401.2 L802.4 400.9 L802 400.6 L801.6 400.3 L801.2 399.9 L800.8 399.6 L800.4 399.3 L800 399 L799.6 398.6 L799.2 398.3 L798.8 398 L798.5 397.7 L798.1 397.3 L797.8 397 L797.4 396.7 L797.1 396.3 L796.7 396 L796.4 395.7 L796.1 395.3 L795.8 395 L795.5 394.7 L795.2 394.3 L794.9 394 L794.6 393.7 L794.3 393.3 L794.1 393 L793.8 392.6 L793.5 392.3 L793.3 392 L793.1 391.6 L792.8 391.3 L792.6 390.9 L792.4 390.6 L792.2 390.3 L792 389.9 L791.8 389.6 L791.6 389.2 L791.5 388.9 L791.3 388.5 L791.2 388.2 L791 387.8 L790.9 387.5 L790.7 387.1 L790.6 386.8 L790.5 386.4 L790.4 386.1 L790.3 385.7 L790.2 385.4 L790.2 385 L790.1 384.7 L790 384.3 L790 384 L790 383.6 L789.9 383.3 L789.9 382.9 L789.9 382.5 L789.9 382.2 L789.9 381.8 L789.9 381.5 L789.9 381.1Z" fill="#8ea6d5" stroke="#1f64b2" stroke-width="2.4"/><path d="M888.8 216.6 L862 214.6 L861.4 214.6 L860.6 214.6 L859.7 214.6 L858.5 214.7 L856.9 215 L855 215.4 L852.5 216.1 L849.4 217 L846 218 L842.5 219.1 L839.2 220.2 L836.3 221.2 L833.9 222.1 L831.7 223 L829.7 223.9 L827.8 224.9 L825.9 225.9 L823.9 227 L821.7 228.3 L819.3 229.9 L816.9 231.5 L814.7 233 L812.8 234.3 L811.5 235.2 L806.3 243.5 L805.9 243.9 L805.6 244.3 L805.2 244.7 L804.9 245.1 L804.5 245.5 L804.2 245.9 L803.9 246.3 L803.6 246.7 L803.3 247.1 L803 247.5 L802.7 247.9 L802.4 248.3 L802.2 248.7 L801.9 249.1 L801.7 249.5 L801.4 249.9 L801.2 250.3 L801 250.6 L800.7 251 L800.5 251.4 L800.3 251.8 L800.1 252.2 L800 252.6 L799.8 253 L799.6 253.3 L799.5 253.7 L799.3 254.1 L799.2 254.5 L799.1 254.9 L799 255.3 L798.8 255.6 L798.7 256 L798.7 256.4 L798.6 256.8 L798.5 257.1 L798.4 257.5 L798.4 257.9 L798.3 258.3 L798.3 258.6 L798.3 275.1 L798.3 274.8 L798.4 274.4 L798.4 274 L798.5 273.6 L798.6 273.3 L798.7 272.9 L798.7 272.5 L798.8 272.1 L799 271.8 L799.1 271.4 L799.2 271 L799.3 270.6 L799.5 270.2 L799.6 269.8 L799.8 269.5 L800 269.1 L800.1 268.7 L800.3 268.3 L800.5 267.9 L800.7 267.5 L801 267.1 L801.2 266.8 L801.4 266.4 L801.7 266 L801.9 265.6 L802.2 265.2 L802.4 264.8 L802.7 264.4 L803 264 L803.3 263.6 L803.6 263.2 L803.9 262.8 L804.2 262.4 L804.5 262 L804.9 261.6 L805.2 261.2 L805.6 260.8 L805.9 260.4 L806.3 260 L811.5 253.4 L812.8 252.3 L814.7 250.7 L816.9 248.9 L819.3 246.9 L821.7 245.1 L823.9 243.5 L825.9 242.2 L827.8 241.1 L829.7 240 L831.7 239 L833.9 238 L836.3 236.9 L839.1 235.7 L842.3 234.4 L845.7 233 L849 231.7 L852.2 230.5 L855 229.5 L857.3 228.7 L859.1 228.2 L860.8 227.8 L862.4 227.3 L864.4 226.7 L866.9 225.8 L870.2 224.5 L874.3 222.8 L878.6 221 L882.8 219.2 L886.3 217.7 L888.8 216.6Z" fill="#4176ba" stroke="#1f64b2" stroke-width="2.4"/><path d="M865.6 325.9 L865.6 326.2 L865.5 326.6 L865.5 327 L865.4 327.3 L865.3 327.7 L865.3 328.1 L865.2 328.5 L865.1 328.8 L865 329.2 L864.9 329.6 L864.7 330 L864.6 330.3 L864.5 330.7 L864.3 331.1 L864.2 331.5 L864 331.8 L863.8 332.2 L863.6 332.6 L863.4 333 L863.2 333.4 L863 333.8 L862.8 334.1 L862.6 334.5 L862.3 334.9 L862.1 335.3 L861.8 335.7 L861.6 336.1 L861.3 336.5 L861 336.8 L860.7 337.2 L860.5 337.6 L860.2 338 L859.8 338.4 L859.5 338.8 L859.2 339.2 L858.9 339.6 L858.5 340 L858.2 340.4 L857.8 340.8 L857.5 341.2 L857.1 341.6 L856.7 342 L856.3 342.4 L855.9 342.8 L855.5 343.2 L855.1 343.6 L854.7 344 L854.3 344.4 L853.9 344.8 L853.4 345.2 L853 345.6 L852.6 346 L852.1 346.4 L851.7 346.8 L851.2 347.2 L850.7 347.6 L850.2 348 L849.8 348.4 L849.3 348.8 L848.8 349.2 L848.3 349.6 L847.8 350 L847.3 350.4 L846.8 350.8 L846.3 351.2 L845.7 351.7 L845.2 352.1 L844.7 352.5 L844.2 352.9 L843.6 353.3 L843.1 353.7 L842.5 354.1 L842 354.5 L841.4 354.9 L840.9 355.4 L840.3 355.8 L839.7 356.2 L839.2 356.6 L838.6 357 L838 357.4 L837.4 357.8 L836.9 358.3 L836.3 358.7 L835.7 359.1 L835.1 359.5 L834.5 359.9 L833.9 360.3 L833.3 360.8 L832.8 361.2 L832.2 361.6 L831.6 362 L831 362.4 L830.4 362.8 L829.8 363.2 L829.2 363.7 L828.6 364.1 L828 364.5 L827.4 364.9 L826.8 365.3 L826.1 365.8 L825.5 366.2 L824.9 366.6 L824.3 367 L823.7 367.4 L823.1 367.8 L822.5 368.3 L821.9 368.7 L821.3 369.1 L820.7 369.5 L820.1 369.9 L819.5 370.3 L819 370.7 L818.4 371.2 L817.8 371.6 L817.2 372 L816.6 372.4 L816 372.8 L815.4 373.2 L814.9 373.7 L814.3 374.1 L813.7 374.5 L813.1 374.9 L812.6 375.3 L812 375.7 L811.4 376.1 L810.9 376.6 L810.3 377 L809.8 377.4 L809.2 377.8 L808.7 378.2 L808.1 378.6 L807.6 379 L807.1 379.4 L806.6 379.8 L806 380.3 L805.5 380.7 L805 381.1 L804.5 381.5 L804 381.9 L803.5 382.3 L803 382.7 L802.5 383.1 L802 383.5 L801.6 383.9 L801.1 384.3 L800.6 384.7 L800.2 385.1 L799.7 385.5 L799.3 385.9 L798.9 386.3 L798.4 386.7 L798 387.1 L797.6 387.5 L797.2 387.9 L796.8 388.3 L796.4 388.7 L796 389.1 L795.6 389.5 L795.2 389.9 L794.8 390.3 L794.5 390.7 L794.1 391.1 L793.8 391.5 L793.4 391.9 L793.1 392.3 L792.8 392.7 L792.5 393.1 L792.1 393.5 L791.8 393.9 L791.6 394.3 L791.3 394.7 L791 395 L790.7 395.4 L790.5 395.8 L790.2 396.2 L790 396.6 L789.7 397 L789.5 397.4 L789.3 397.7 L789.1 398.1 L788.9 398.5 L788.7 398.9 L788.5 399.3 L788.3 399.7 L788.1 400 L788 400.4 L787.8 400.8 L787.7 401.2 L787.6 401.5 L787.4 401.9 L787.3 402.3 L787.2 402.7 L787.1 403 L787 403.4 L787 403.8 L786.9 404.2 L786.8 404.5 L786.8 404.9 L786.7 405.3 L786.7 405.6 L786.7 422.1 L786.7 421.8 L786.8 421.4 L786.8 421 L786.9 420.7 L787 420.3 L787 419.9 L787.1 419.5 L787.2 419.2 L787.3 418.8 L787.4 418.4 L787.6 418 L787.7 417.7 L787.8 417.3 L788 416.9 L788.1 416.5 L788.3 416.2 L788.5 415.8 L788.7 415.4 L788.9 415 L789.1 414.6 L789.3 414.2 L789.5 413.9 L789.7 413.5 L790 413.1 L790.2 412.7 L790.5 412.3 L790.7 411.9 L791 411.5 L791.3 411.2 L791.6 410.8 L791.8 410.4 L792.1 410 L792.5 409.6 L792.8 409.2 L793.1 408.8 L793.4 408.4 L793.8 408 L794.1 407.6 L794.5 407.2 L794.8 406.8 L795.2 406.4 L795.6 406 L796 405.6 L796.4 405.2 L796.8 404.8 L797.2 404.4 L797.6 404 L798 403.6 L798.4 403.2 L798.9 402.8 L799.3 402.4 L799.7 402 L800.2 401.6 L800.6 401.2 L801.1 400.8 L801.6 400.4 L802 400 L802.5 399.6 L803 399.2 L803.5 398.8 L804 398.4 L804.5 398 L805 397.6 L805.5 397.2 L806 396.8 L806.6 396.3 L807.1 395.9 L807.6 395.5 L808.1 395.1 L808.7 394.7 L809.2 394.3 L809.8 393.9 L810.3 393.5 L810.9 393.1 L811.4 392.6 L812 392.2 L812.6 391.8 L813.1 391.4 L813.7 391 L814.3 390.6 L814.9 390.2 L815.4 389.7 L816 389.3 L816.6 388.9 L817.2 388.5 L817.8 388.1 L818.4 387.7 L819 387.2 L819.5 386.8 L820.1 386.4 L820.7 386 L821.3 385.6 L821.9 385.2 L822.5 384.8 L823.1 384.3 L823.7 383.9 L824.3 383.5 L824.9 383.1 L825.5 382.7 L826.1 382.2 L826.8 381.8 L827.4 381.4 L828 381 L828.6 380.6 L829.2 380.2 L829.8 379.7 L830.4 379.3 L831 378.9 L831.6 378.5 L832.2 378.1 L832.8 377.7 L833.3 377.3 L833.9 376.8 L834.5 376.4 L835.1 376 L835.7 375.6 L836.3 375.2 L836.9 374.8 L837.4 374.3 L838 373.9 L838.6 373.5 L839.2 373.1 L839.7 372.7 L840.3 372.3 L840.9 371.9 L841.4 371.4 L842 371 L842.5 370.6 L843.1 370.2 L843.6 369.8 L844.2 369.4 L844.7 369 L845.2 368.6 L845.7 368.2 L846.3 367.7 L846.8 367.3 L847.3 366.9 L847.8 366.5 L848.3 366.1 L848.8 365.7 L849.3 365.3 L849.8 364.9 L850.2 364.5 L850.7 364.1 L851.2 363.7 L851.7 363.3 L852.1 362.9 L852.6 362.5 L853 362.1 L853.4 361.7 L853.9 361.3 L854.3 360.9 L854.7 360.5 L855.1 360.1 L855.5 359.7 L855.9 359.3 L856.3 358.9 L856.7 358.5 L857.1 358.1 L857.5 357.7 L857.8 357.3 L858.2 356.9 L858.5 356.5 L858.9 356.1 L859.2 355.7 L859.5 355.3 L859.8 354.9 L860.2 354.5 L860.5 354.1 L860.7 353.7 L861 353.3 L861.3 353 L861.6 352.6 L861.8 352.2 L862.1 351.8 L862.3 351.4 L862.6 351 L862.8 350.6 L863 350.3 L863.2 349.9 L863.4 349.5 L863.6 349.1 L863.8 348.7 L864 348.3 L864.2 348 L864.3 347.6 L864.5 347.2 L864.6 346.8 L864.7 346.5 L864.9 346.1 L865 345.7 L865.1 345.3 L865.2 345 L865.3 344.6 L865.3 344.2 L865.4 343.8 L865.5 343.5 L865.5 343.1 L865.6 342.7 L865.6 342.4Z" fill="#4176ba" stroke="#1f64b2" stroke-width="2.4"/><path d="M868.8 285.9 L868.7 286.3 L868.7 286.6 L868.6 287 L868.6 287.4 L868.5 287.7 L868.4 288.1 L868.3 288.5 L868.2 288.8 L868.1 289.2 L868 289.6 L867.9 289.9 L867.8 290.3 L867.6 290.7 L867.5 291.1 L867.3 291.4 L867.2 291.8 L867 292.2 L866.8 292.6 L866.6 292.9 L866.4 293.3 L866.2 293.7 L866 294.1 L865.7 294.4 L865.5 294.8 L865.3 295.2 L865 295.6 L864.7 296 L864.5 296.4 L864.2 296.7 L863.9 297.1 L863.6 297.5 L863.3 297.9 L863 298.3 L862.7 298.7 L862.4 299.1 L862 299.4 L861.7 299.8 L861.3 300.2 L861 300.6 L860.6 301 L860.3 301.4 L859.9 301.8 L859.5 302.2 L859.1 302.6 L858.7 303 L858.3 303.4 L857.9 303.8 L857.5 304.1 L857.1 304.5 L856.6 304.9 L856.2 305.3 L855.7 305.7 L855.3 306.1 L854.8 306.5 L854.4 306.9 L853.9 307.3 L853.4 307.7 L852.9 308.1 L852.5 308.5 L852 308.9 L851.5 309.3 L851 309.7 L850.5 310.1 L850 310.5 L849.4 310.9 L848.9 311.4 L848.4 311.8 L847.9 312.2 L847.3 312.6 L846.8 313 L846.3 313.4 L845.7 313.8 L845.2 314.2 L844.6 314.6 L844 315 L843.5 315.4 L842.9 315.8 L842.4 316.2 L841.8 316.6 L841.2 317 L840.6 317.5 L840.1 317.9 L839.5 318.3 L838.9 318.7 L838.3 319.1 L837.7 319.5 L837.1 319.9 L836.5 320.3 L835.9 320.7 L835.4 321.1 L834.8 321.6 L834.2 322 L833.6 322.4 L833 322.8 L832.4 323.2 L831.8 323.6 L831.2 324 L830.6 324.4 L830 324.8 L829.3 325.2 L828.7 325.7 L828.1 326.1 L827.5 326.5 L826.9 326.9 L826.3 327.3 L825.7 327.7 L825.1 328.1 L824.5 328.5 L823.9 328.9 L823.3 329.4 L822.8 329.8 L822.2 330.2 L821.6 330.6 L821 331 L820.4 331.4 L819.8 331.8 L819.2 332.2 L818.6 332.6 L818.1 333 L817.5 333.5 L816.9 333.9 L816.3 334.3 L815.8 334.7 L815.2 335.1 L814.6 335.5 L814.1 335.9 L813.5 336.3 L813 336.7 L812.4 337.1 L811.9 337.5 L811.4 337.9 L810.8 338.3 L810.3 338.7 L809.8 339.1 L809.3 339.6 L808.7 340 L808.2 340.4 L807.7 340.8 L807.2 341.2 L806.7 341.6 L806.2 342 L805.7 342.4 L805.3 342.8 L804.8 343.2 L804.3 343.6 L803.9 344 L803.4 344.4 L803 344.8 L802.5 345.2 L802.1 345.6 L801.6 346 L801.2 346.4 L800.8 346.7 L800.4 347.1 L800 347.5 L799.6 347.9 L799.2 348.3 L798.8 348.7 L798.4 349.1 L798.1 349.5 L797.7 349.9 L797.3 350.3 L797 350.7 L796.7 351.1 L796.3 351.4 L796 351.8 L795.7 352.2 L795.4 352.6 L795.1 353 L794.8 353.4 L794.5 353.8 L794.2 354.1 L794 354.5 L793.7 354.9 L793.4 355.3 L793.2 355.7 L793 356.1 L792.7 356.4 L792.5 356.8 L792.3 357.2 L792.1 357.6 L791.9 357.9 L791.7 358.3 L791.5 358.7 L791.4 359.1 L791.2 359.4 L791.1 359.8 L790.9 360.2 L790.8 360.6 L790.7 360.9 L790.6 361.3 L790.5 361.7 L790.4 362 L790.3 362.4 L790.2 362.8 L790.1 363.1 L790.1 363.5 L790 363.9 L790 364.2 L789.9 364.6 L789.9 381.1 L790 380.7 L790 380.4 L790.1 380 L790.1 379.6 L790.2 379.3 L790.3 378.9 L790.4 378.5 L790.5 378.2 L790.6 377.8 L790.7 377.4 L790.8 377.1 L790.9 376.7 L791.1 376.3 L791.2 375.9 L791.4 375.6 L791.5 375.2 L791.7 374.8 L791.9 374.4 L792.1 374.1 L792.3 373.7 L792.5 373.3 L792.7 372.9 L793 372.6 L793.2 372.2 L793.4 371.8 L793.7 371.4 L794 371 L794.2 370.6 L794.5 370.3 L794.8 369.9 L795.1 369.5 L795.4 369.1 L795.7 368.7 L796 368.3 L796.3 367.9 L796.7 367.6 L797 367.2 L797.3 366.8 L797.7 366.4 L798.1 366 L798.4 365.6 L798.8 365.2 L799.2 364.8 L799.6 364.4 L800 364 L800.4 363.6 L800.8 363.2 L801.2 362.9 L801.6 362.5 L802.1 362.1 L802.5 361.7 L803 361.3 L803.4 360.9 L803.9 360.5 L804.3 360.1 L804.8 359.7 L805.3 359.3 L805.7 358.9 L806.2 358.5 L806.7 358.1 L807.2 357.7 L807.7 357.3 L808.2 356.9 L808.7 356.5 L809.3 356.1 L809.8 355.6 L810.3 355.2 L810.8 354.8 L811.4 354.4 L811.9 354 L812.4 353.6 L813 353.2 L813.5 352.8 L814.1 352.4 L814.6 352 L815.2 351.6 L815.8 351.2 L816.3 350.8 L816.9 350.4 L817.5 350 L818.1 349.5 L818.6 349.1 L819.2 348.7 L819.8 348.3 L820.4 347.9 L821 347.5 L821.6 347.1 L822.2 346.7 L822.8 346.3 L823.3 345.9 L823.9 345.4 L824.5 345 L825.1 344.6 L825.7 344.2 L826.3 343.8 L826.9 343.4 L827.5 343 L828.1 342.6 L828.7 342.2 L829.3 341.8 L830 341.3 L830.6 340.9 L831.2 340.5 L831.8 340.1 L832.4 339.7 L833 339.3 L833.6 338.9 L834.2 338.5 L834.8 338.1 L835.4 337.6 L835.9 337.2 L836.5 336.8 L837.1 336.4 L837.7 336 L838.3 335.6 L838.9 335.2 L839.5 334.8 L840.1 334.4 L840.6 334 L841.2 333.5 L841.8 333.1 L842.4 332.7 L842.9 332.3 L843.5 331.9 L844 331.5 L844.6 331.1 L845.2 330.7 L845.7 330.3 L846.3 329.9 L846.8 329.5 L847.3 329.1 L847.9 328.7 L848.4 328.3 L848.9 327.9 L849.4 327.4 L850 327 L850.5 326.6 L851 326.2 L851.5 325.8 L852 325.4 L852.5 325 L852.9 324.6 L853.4 324.2 L853.9 323.8 L854.4 323.4 L854.8 323 L855.3 322.6 L855.7 322.2 L856.2 321.8 L856.6 321.4 L857.1 321 L857.5 320.6 L857.9 320.3 L858.3 319.9 L858.7 319.5 L859.1 319.1 L859.5 318.7 L859.9 318.3 L860.3 317.9 L860.6 317.5 L861 317.1 L861.3 316.7 L861.7 316.3 L862 315.9 L862.4 315.6 L862.7 315.2 L863 314.8 L863.3 314.4 L863.6 314 L863.9 313.6 L864.2 313.2 L864.5 312.9 L864.7 312.5 L865 312.1 L865.3 311.7 L865.5 311.3 L865.7 310.9 L866 310.6 L866.2 310.2 L866.4 309.8 L866.6 309.4 L866.8 309.1 L867 308.7 L867.2 308.3 L867.3 307.9 L867.5 307.6 L867.6 307.2 L867.8 306.8 L867.9 306.4 L868 306.1 L868.1 305.7 L868.2 305.3 L868.3 305 L868.4 304.6 L868.5 304.2 L868.6 303.9 L868.6 303.5 L868.7 303.1 L868.7 302.8 L868.8 302.4Z" fill="#4176ba" stroke="#1f64b2" stroke-width="2.4"/><path d="M857.3 430.9 L857.3 431.3 L857.2 431.7 L857.2 432.1 L857.1 432.5 L857 432.8 L856.9 433.2 L856.7 435.9 L856.5 437.6 L856.4 439.5 L856.2 441.5 L855.9 443.4 L855.5 445 L855.1 446.2 L854.6 447.3 L854 448.2 L853.4 449.1 L852.7 450 L851.9 451 L851 452.1 L850.1 453.2 L849.1 454.3 L848 455.4 L846.6 456.6 L845 457.9 L843.1 459.2 L840.9 460.6 L838.6 462.1 L836 463.6 L833.2 465.1 L830.3 466.6 L827 468.2 L823.3 469.8 L819.5 471.5 L815.6 473.1 L811.9 474.7 L808.7 476.1 L805.8 477.4 L802.9 478.7 L800.3 479.8 L798 480.9 L796 481.8 L794.6 482.4 L764.8 494.5 L764.8 494.5 L794.6 496.7 L795 496.5 L795.4 496.3 L796 496 L796.8 495.5 L798.1 494.9 L800 494 L802.7 492.7 L806.2 491.1 L810 489.3 L814.1 487.4 L818.1 485.6 L821.6 483.9 L824.8 482.3 L828 480.8 L831.1 479.3 L833.9 477.9 L836.6 476.5 L839 475.2 L841.1 473.9 L842.9 472.8 L844.5 471.6 L845.9 470.5 L847.3 469.4 L848.5 468.3 L849.6 467.2 L850.6 466.1 L851.5 465.1 L852.3 463.9 L853 462.7 L853.7 461.4 L854.4 459.8 L855 457.9 L855.6 455.9 L856.1 454 L856.5 452.4 L856.9 449.7 L857 449.3 L857.1 449 L857.2 448.6 L857.2 448.2 L857.3 447.8 L857.3 447.4Z" fill="#4176ba" stroke="#1f64b2" stroke-width="2.4"/></g>
<text x="1319.1" y="628.2" text-anchor="middle" font-size="20.9">Suppressed protease</text>
<text x="1319.1" y="649.5" text-anchor="middle" font-size="20.9">activity</text>
<text x="1474.6" y="395.4" text-anchor="middle" font-size="20.9">Antigens</text>
<text x="1474.6" y="417.2" text-anchor="middle" font-size="20.9">presented</text>
</svg></body></html>
